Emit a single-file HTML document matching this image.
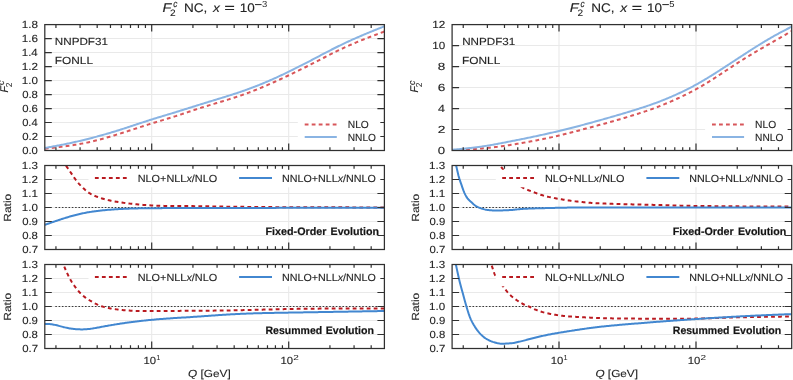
<!DOCTYPE html><html><head><meta charset="utf-8"><style>html,body{margin:0;padding:0;background:#fff;width:793px;height:380px;overflow:hidden}svg{display:block;will-change:transform}text{font-family:"Liberation Sans",sans-serif;text-rendering:geometricPrecision}</style></head><body>
<svg width="793" height="380" viewBox="0 0 793 380">
<rect width="793" height="380" fill="#fff"/>
<defs>
<clipPath id="c00"><rect x="44.8" y="24.6" width="339.6" height="125.9"/></clipPath>
<clipPath id="c01"><rect x="44.8" y="165.5" width="339.6" height="84"/></clipPath>
<clipPath id="c02"><rect x="44.8" y="264.5" width="339.6" height="84"/></clipPath>
<clipPath id="c10"><rect x="452.1" y="24.6" width="339.6" height="125.9"/></clipPath>
<clipPath id="c11"><rect x="452.1" y="165.5" width="339.6" height="84"/></clipPath>
<clipPath id="c12"><rect x="452.1" y="264.5" width="339.6" height="84"/></clipPath>
</defs>
<path d="M44.8 136.51H384.4M44.8 122.52H384.4M44.8 108.53H384.4M44.8 94.54H384.4M44.8 80.56H384.4M44.8 66.57H384.4M44.8 52.58H384.4M44.8 38.59H384.4M151.7 24.6V150.5M288.7 24.6V150.5" stroke="#e9e9e9" stroke-width="1.05" fill="none"/>
<path d="M44.8 235.5H384.4M44.8 221.5H384.4M44.8 207.5H384.4M44.8 193.5H384.4M44.8 179.5H384.4M151.7 165.5V249.5M288.7 165.5V249.5" stroke="#e9e9e9" stroke-width="1.05" fill="none"/>
<path d="M44.8 334.5H384.4M44.8 320.5H384.4M44.8 306.5H384.4M44.8 292.5H384.4M44.8 278.5H384.4M151.7 264.5V348.5M288.7 264.5V348.5" stroke="#e9e9e9" stroke-width="1.05" fill="none"/>
<path d="M452.1 129.52H791.7M452.1 108.53H791.7M452.1 87.55H791.7M452.1 66.57H791.7M452.1 45.58H791.7M559 24.6V150.5M696 24.6V150.5" stroke="#e9e9e9" stroke-width="1.05" fill="none"/>
<path d="M452.1 235.5H791.7M452.1 221.5H791.7M452.1 207.5H791.7M452.1 193.5H791.7M452.1 179.5H791.7M559 165.5V249.5M696 165.5V249.5" stroke="#e9e9e9" stroke-width="1.05" fill="none"/>
<path d="M452.1 334.5H791.7M452.1 320.5H791.7M452.1 306.5H791.7M452.1 292.5H791.7M452.1 278.5H791.7M559 264.5V348.5M696 264.5V348.5" stroke="#e9e9e9" stroke-width="1.05" fill="none"/>
<path d="M44.8 148.72 L45.8 148.61 L46.8 148.49 L47.8 148.38 L48.8 148.26 L49.8 148.14 L50.8 148.03 L51.8 147.91 L52.8 147.79 L53.8 147.67 L54.8 147.55 L55.8 147.43 L56.8 147.31 L57.8 147.19 L58.8 147.07 L59.8 146.94 L60.8 146.82 L61.8 146.69 L62.8 146.56 L63.8 146.43 L64.8 146.3 L65.8 146.17 L66.8 146.03 L67.8 145.89 L68.8 145.75 L69.8 145.61 L70.8 145.46 L71.8 145.31 L72.8 145.16 L73.8 145 L74.8 144.85 L75.8 144.68 L76.8 144.52 L77.8 144.35 L78.8 144.18 L79.8 144 L80.8 143.82 L81.8 143.63 L82.8 143.44 L83.8 143.25 L84.8 143.05 L85.8 142.84 L86.8 142.63 L87.8 142.42 L88.8 142.2 L89.8 141.98 L90.8 141.75 L91.8 141.52 L92.8 141.28 L93.8 141.04 L94.8 140.79 L95.8 140.54 L96.8 140.29 L97.8 140.03 L98.8 139.77 L99.8 139.51 L100.8 139.24 L101.8 138.97 L102.8 138.7 L103.8 138.42 L104.8 138.14 L105.8 137.86 L106.8 137.57 L107.8 137.28 L108.8 136.99 L109.8 136.7 L110.8 136.4 L111.8 136.11 L112.8 135.81 L113.8 135.5 L114.8 135.2 L115.8 134.89 L116.8 134.58 L117.8 134.27 L118.8 133.96 L119.8 133.65 L120.8 133.34 L121.8 133.02 L122.8 132.7 L123.8 132.39 L124.8 132.07 L125.8 131.75 L126.8 131.43 L127.8 131.1 L128.8 130.78 L129.8 130.46 L130.8 130.14 L131.8 129.81 L132.8 129.49 L133.8 129.16 L134.8 128.84 L135.8 128.52 L136.8 128.19 L137.8 127.87 L138.8 127.55 L139.8 127.22 L140.8 126.9 L141.8 126.58 L142.8 126.26 L143.8 125.94 L144.8 125.62 L145.8 125.3 L146.8 124.99 L147.8 124.67 L148.8 124.36 L149.8 124.04 L150.8 123.73 L151.8 123.42 L152.8 123.12 L153.8 122.81 L154.8 122.5 L155.8 122.2 L156.8 121.9 L157.8 121.59 L158.8 121.29 L159.8 120.99 L160.8 120.69 L161.8 120.39 L162.8 120.09 L163.8 119.79 L164.8 119.49 L165.8 119.18 L166.8 118.88 L167.8 118.58 L168.8 118.27 L169.8 117.96 L170.8 117.66 L171.8 117.35 L172.8 117.03 L173.8 116.72 L174.8 116.4 L175.8 116.08 L176.8 115.76 L177.8 115.44 L178.8 115.11 L179.8 114.79 L180.8 114.46 L181.8 114.13 L182.8 113.8 L183.8 113.47 L184.8 113.13 L185.8 112.8 L186.8 112.47 L187.8 112.13 L188.8 111.8 L189.8 111.47 L190.8 111.14 L191.8 110.8 L192.8 110.47 L193.8 110.14 L194.8 109.81 L195.8 109.48 L196.8 109.16 L197.8 108.83 L198.8 108.51 L199.8 108.19 L200.8 107.87 L201.8 107.56 L202.8 107.25 L203.8 106.93 L204.8 106.62 L205.8 106.32 L206.8 106.01 L207.8 105.71 L208.8 105.4 L209.8 105.1 L210.8 104.8 L211.8 104.5 L212.8 104.2 L213.8 103.9 L214.8 103.6 L215.8 103.3 L216.8 103 L217.8 102.7 L218.8 102.4 L219.8 102.1 L220.8 101.8 L221.8 101.49 L222.8 101.19 L223.8 100.89 L224.8 100.58 L225.8 100.27 L226.8 99.97 L227.8 99.66 L228.8 99.34 L229.8 99.03 L230.8 98.71 L231.8 98.4 L232.8 98.08 L233.8 97.76 L234.8 97.43 L235.8 97.1 L236.8 96.77 L237.8 96.44 L238.8 96.11 L239.8 95.77 L240.8 95.43 L241.8 95.08 L242.8 94.74 L243.8 94.39 L244.8 94.03 L245.8 93.68 L246.8 93.31 L247.8 92.95 L248.8 92.58 L249.8 92.21 L250.8 91.83 L251.8 91.45 L252.8 91.07 L253.8 90.68 L254.8 90.29 L255.8 89.89 L256.8 89.49 L257.8 89.09 L258.8 88.68 L259.8 88.27 L260.8 87.86 L261.8 87.45 L262.8 87.03 L263.8 86.6 L264.8 86.18 L265.8 85.75 L266.8 85.32 L267.8 84.89 L268.8 84.45 L269.8 84.01 L270.8 83.57 L271.8 83.12 L272.8 82.68 L273.8 82.23 L274.8 81.78 L275.8 81.32 L276.8 80.87 L277.8 80.41 L278.8 79.95 L279.8 79.49 L280.8 79.03 L281.8 78.56 L282.8 78.1 L283.8 77.63 L284.8 77.16 L285.8 76.69 L286.8 76.22 L287.8 75.74 L288.8 75.27 L289.8 74.79 L290.8 74.31 L291.8 73.84 L292.8 73.36 L293.8 72.88 L294.8 72.39 L295.8 71.91 L296.8 71.43 L297.8 70.94 L298.8 70.45 L299.8 69.97 L300.8 69.47 L301.8 68.98 L302.8 68.49 L303.8 67.99 L304.8 67.5 L305.8 67 L306.8 66.5 L307.8 65.99 L308.8 65.49 L309.8 64.98 L310.8 64.47 L311.8 63.96 L312.8 63.45 L313.8 62.93 L314.8 62.42 L315.8 61.9 L316.8 61.39 L317.8 60.87 L318.8 60.35 L319.8 59.83 L320.8 59.31 L321.8 58.79 L322.8 58.27 L323.8 57.76 L324.8 57.24 L325.8 56.73 L326.8 56.21 L327.8 55.7 L328.8 55.19 L329.8 54.68 L330.8 54.18 L331.8 53.67 L332.8 53.17 L333.8 52.68 L334.8 52.18 L335.8 51.69 L336.8 51.2 L337.8 50.71 L338.8 50.23 L339.8 49.75 L340.8 49.27 L341.8 48.8 L342.8 48.33 L343.8 47.86 L344.8 47.4 L345.8 46.94 L346.8 46.49 L347.8 46.04 L348.8 45.59 L349.8 45.15 L350.8 44.71 L351.8 44.27 L352.8 43.84 L353.8 43.42 L354.8 42.99 L355.8 42.57 L356.8 42.15 L357.8 41.74 L358.8 41.33 L359.8 40.92 L360.8 40.52 L361.8 40.11 L362.8 39.71 L363.8 39.32 L364.8 38.92 L365.8 38.53 L366.8 38.14 L367.8 37.75 L368.8 37.36 L369.8 36.98 L370.8 36.59 L371.8 36.21 L372.8 35.83 L373.8 35.45 L374.8 35.07 L375.8 34.7 L376.8 34.32 L377.8 33.94 L378.8 33.57 L379.8 33.2 L380.8 32.82 L381.8 32.45 L382.8 32.08 L383.8 31.7 L384.4 31.48" fill="none" stroke="#d8565a" stroke-width="2.0" stroke-dasharray="3.8 3.2" clip-path="url(#c00)" stroke-linejoin="round"/>
<path d="M44.8 147.99 L45.8 147.81 L46.8 147.63 L47.8 147.45 L48.8 147.27 L49.8 147.09 L50.8 146.91 L51.8 146.72 L52.8 146.54 L53.8 146.35 L54.8 146.17 L55.8 145.98 L56.8 145.79 L57.8 145.6 L58.8 145.41 L59.8 145.22 L60.8 145.02 L61.8 144.82 L62.8 144.62 L63.8 144.42 L64.8 144.22 L65.8 144.02 L66.8 143.81 L67.8 143.6 L68.8 143.39 L69.8 143.17 L70.8 142.96 L71.8 142.74 L72.8 142.52 L73.8 142.29 L74.8 142.07 L75.8 141.84 L76.8 141.61 L77.8 141.38 L78.8 141.15 L79.8 140.91 L80.8 140.67 L81.8 140.43 L82.8 140.19 L83.8 139.94 L84.8 139.7 L85.8 139.45 L86.8 139.2 L87.8 138.95 L88.8 138.7 L89.8 138.44 L90.8 138.18 L91.8 137.93 L92.8 137.66 L93.8 137.4 L94.8 137.14 L95.8 136.87 L96.8 136.6 L97.8 136.33 L98.8 136.06 L99.8 135.78 L100.8 135.5 L101.8 135.23 L102.8 134.94 L103.8 134.66 L104.8 134.38 L105.8 134.09 L106.8 133.8 L107.8 133.51 L108.8 133.21 L109.8 132.92 L110.8 132.62 L111.8 132.32 L112.8 132.02 L113.8 131.72 L114.8 131.42 L115.8 131.11 L116.8 130.8 L117.8 130.49 L118.8 130.18 L119.8 129.86 L120.8 129.55 L121.8 129.23 L122.8 128.91 L123.8 128.59 L124.8 128.27 L125.8 127.94 L126.8 127.61 L127.8 127.29 L128.8 126.96 L129.8 126.63 L130.8 126.3 L131.8 125.97 L132.8 125.64 L133.8 125.31 L134.8 124.98 L135.8 124.64 L136.8 124.31 L137.8 123.98 L138.8 123.65 L139.8 123.32 L140.8 122.99 L141.8 122.66 L142.8 122.33 L143.8 122 L144.8 121.68 L145.8 121.35 L146.8 121.03 L147.8 120.71 L148.8 120.39 L149.8 120.07 L150.8 119.75 L151.8 119.44 L152.8 119.13 L153.8 118.81 L154.8 118.5 L155.8 118.2 L156.8 117.89 L157.8 117.58 L158.8 117.28 L159.8 116.98 L160.8 116.67 L161.8 116.37 L162.8 116.07 L163.8 115.77 L164.8 115.47 L165.8 115.16 L166.8 114.86 L167.8 114.56 L168.8 114.26 L169.8 113.96 L170.8 113.66 L171.8 113.35 L172.8 113.05 L173.8 112.74 L174.8 112.44 L175.8 112.13 L176.8 111.82 L177.8 111.51 L178.8 111.2 L179.8 110.89 L180.8 110.58 L181.8 110.26 L182.8 109.95 L183.8 109.64 L184.8 109.32 L185.8 109.01 L186.8 108.69 L187.8 108.38 L188.8 108.06 L189.8 107.74 L190.8 107.43 L191.8 107.11 L192.8 106.8 L193.8 106.48 L194.8 106.17 L195.8 105.85 L196.8 105.54 L197.8 105.23 L198.8 104.91 L199.8 104.6 L200.8 104.29 L201.8 103.98 L202.8 103.67 L203.8 103.36 L204.8 103.06 L205.8 102.75 L206.8 102.44 L207.8 102.14 L208.8 101.83 L209.8 101.52 L210.8 101.22 L211.8 100.91 L212.8 100.61 L213.8 100.3 L214.8 100 L215.8 99.69 L216.8 99.38 L217.8 99.08 L218.8 98.77 L219.8 98.46 L220.8 98.16 L221.8 97.85 L222.8 97.54 L223.8 97.23 L224.8 96.92 L225.8 96.6 L226.8 96.29 L227.8 95.98 L228.8 95.66 L229.8 95.35 L230.8 95.03 L231.8 94.71 L232.8 94.39 L233.8 94.06 L234.8 93.74 L235.8 93.41 L236.8 93.08 L237.8 92.75 L238.8 92.41 L239.8 92.08 L240.8 91.74 L241.8 91.4 L242.8 91.05 L243.8 90.7 L244.8 90.35 L245.8 90 L246.8 89.64 L247.8 89.28 L248.8 88.92 L249.8 88.55 L250.8 88.18 L251.8 87.8 L252.8 87.43 L253.8 87.04 L254.8 86.66 L255.8 86.27 L256.8 85.88 L257.8 85.48 L258.8 85.08 L259.8 84.68 L260.8 84.27 L261.8 83.86 L262.8 83.45 L263.8 83.03 L264.8 82.61 L265.8 82.19 L266.8 81.76 L267.8 81.34 L268.8 80.9 L269.8 80.47 L270.8 80.03 L271.8 79.59 L272.8 79.15 L273.8 78.7 L274.8 78.25 L275.8 77.8 L276.8 77.34 L277.8 76.89 L278.8 76.43 L279.8 75.96 L280.8 75.5 L281.8 75.03 L282.8 74.56 L283.8 74.09 L284.8 73.61 L285.8 73.13 L286.8 72.65 L287.8 72.17 L288.8 71.69 L289.8 71.2 L290.8 70.71 L291.8 70.22 L292.8 69.73 L293.8 69.23 L294.8 68.73 L295.8 68.23 L296.8 67.73 L297.8 67.23 L298.8 66.72 L299.8 66.22 L300.8 65.71 L301.8 65.2 L302.8 64.68 L303.8 64.17 L304.8 63.65 L305.8 63.14 L306.8 62.62 L307.8 62.1 L308.8 61.57 L309.8 61.05 L310.8 60.52 L311.8 60 L312.8 59.47 L313.8 58.94 L314.8 58.41 L315.8 57.88 L316.8 57.35 L317.8 56.82 L318.8 56.29 L319.8 55.76 L320.8 55.23 L321.8 54.71 L322.8 54.18 L323.8 53.65 L324.8 53.13 L325.8 52.6 L326.8 52.08 L327.8 51.56 L328.8 51.05 L329.8 50.53 L330.8 50.02 L331.8 49.51 L332.8 49 L333.8 48.5 L334.8 48 L335.8 47.5 L336.8 47 L337.8 46.51 L338.8 46.02 L339.8 45.53 L340.8 45.05 L341.8 44.57 L342.8 44.09 L343.8 43.61 L344.8 43.14 L345.8 42.67 L346.8 42.2 L347.8 41.74 L348.8 41.28 L349.8 40.82 L350.8 40.36 L351.8 39.91 L352.8 39.46 L353.8 39.01 L354.8 38.57 L355.8 38.13 L356.8 37.69 L357.8 37.25 L358.8 36.82 L359.8 36.39 L360.8 35.96 L361.8 35.53 L362.8 35.1 L363.8 34.68 L364.8 34.26 L365.8 33.84 L366.8 33.42 L367.8 33 L368.8 32.59 L369.8 32.18 L370.8 31.77 L371.8 31.36 L372.8 30.95 L373.8 30.54 L374.8 30.13 L375.8 29.73 L376.8 29.32 L377.8 28.92 L378.8 28.51 L379.8 28.11 L380.8 27.71 L381.8 27.31 L382.8 26.91 L383.8 26.5 L384.4 26.26" fill="none" stroke="#8ab4e3" stroke-width="2.0" clip-path="url(#c00)" stroke-linejoin="round"/>
<path d="M452.1 150.54 L453.1 150.47 L454.1 150.4 L455.1 150.34 L456.1 150.27 L457.1 150.21 L458.1 150.14 L459.1 150.07 L460.1 150.01 L461.1 149.94 L462.1 149.87 L463.1 149.81 L464.1 149.74 L465.1 149.67 L466.1 149.6 L467.1 149.53 L468.1 149.46 L469.1 149.4 L470.1 149.33 L471.1 149.26 L472.1 149.19 L473.1 149.11 L474.1 149.04 L475.1 148.97 L476.1 148.89 L477.1 148.82 L478.1 148.74 L479.1 148.66 L480.1 148.58 L481.1 148.5 L482.1 148.42 L483.1 148.33 L484.1 148.25 L485.1 148.16 L486.1 148.06 L487.1 147.97 L488.1 147.87 L489.1 147.77 L490.1 147.67 L491.1 147.56 L492.1 147.46 L493.1 147.35 L494.1 147.23 L495.1 147.11 L496.1 147 L497.1 146.87 L498.1 146.75 L499.1 146.62 L500.1 146.49 L501.1 146.36 L502.1 146.22 L503.1 146.08 L504.1 145.94 L505.1 145.79 L506.1 145.64 L507.1 145.49 L508.1 145.33 L509.1 145.18 L510.1 145.02 L511.1 144.85 L512.1 144.69 L513.1 144.52 L514.1 144.36 L515.1 144.19 L516.1 144.02 L517.1 143.84 L518.1 143.67 L519.1 143.5 L520.1 143.32 L521.1 143.15 L522.1 142.97 L523.1 142.79 L524.1 142.62 L525.1 142.44 L526.1 142.26 L527.1 142.08 L528.1 141.9 L529.1 141.72 L530.1 141.54 L531.1 141.35 L532.1 141.17 L533.1 140.98 L534.1 140.79 L535.1 140.61 L536.1 140.42 L537.1 140.22 L538.1 140.03 L539.1 139.84 L540.1 139.64 L541.1 139.44 L542.1 139.24 L543.1 139.04 L544.1 138.84 L545.1 138.63 L546.1 138.43 L547.1 138.22 L548.1 138.01 L549.1 137.79 L550.1 137.58 L551.1 137.36 L552.1 137.14 L553.1 136.92 L554.1 136.7 L555.1 136.47 L556.1 136.24 L557.1 136.01 L558.1 135.77 L559.1 135.54 L560.1 135.3 L561.1 135.05 L562.1 134.81 L563.1 134.56 L564.1 134.31 L565.1 134.06 L566.1 133.81 L567.1 133.55 L568.1 133.3 L569.1 133.04 L570.1 132.78 L571.1 132.52 L572.1 132.26 L573.1 131.99 L574.1 131.73 L575.1 131.47 L576.1 131.2 L577.1 130.94 L578.1 130.67 L579.1 130.41 L580.1 130.14 L581.1 129.87 L582.1 129.61 L583.1 129.34 L584.1 129.08 L585.1 128.81 L586.1 128.55 L587.1 128.28 L588.1 128.02 L589.1 127.75 L590.1 127.48 L591.1 127.22 L592.1 126.95 L593.1 126.68 L594.1 126.42 L595.1 126.15 L596.1 125.88 L597.1 125.61 L598.1 125.34 L599.1 125.07 L600.1 124.8 L601.1 124.53 L602.1 124.25 L603.1 123.98 L604.1 123.71 L605.1 123.43 L606.1 123.16 L607.1 122.88 L608.1 122.6 L609.1 122.32 L610.1 122.04 L611.1 121.76 L612.1 121.48 L613.1 121.2 L614.1 120.91 L615.1 120.63 L616.1 120.34 L617.1 120.05 L618.1 119.76 L619.1 119.47 L620.1 119.18 L621.1 118.89 L622.1 118.59 L623.1 118.3 L624.1 118 L625.1 117.7 L626.1 117.41 L627.1 117.1 L628.1 116.8 L629.1 116.5 L630.1 116.19 L631.1 115.89 L632.1 115.58 L633.1 115.27 L634.1 114.96 L635.1 114.65 L636.1 114.33 L637.1 114.02 L638.1 113.7 L639.1 113.38 L640.1 113.06 L641.1 112.73 L642.1 112.41 L643.1 112.08 L644.1 111.75 L645.1 111.41 L646.1 111.08 L647.1 110.74 L648.1 110.39 L649.1 110.05 L650.1 109.69 L651.1 109.34 L652.1 108.98 L653.1 108.62 L654.1 108.25 L655.1 107.88 L656.1 107.51 L657.1 107.13 L658.1 106.75 L659.1 106.36 L660.1 105.97 L661.1 105.58 L662.1 105.18 L663.1 104.77 L664.1 104.37 L665.1 103.95 L666.1 103.54 L667.1 103.12 L668.1 102.7 L669.1 102.27 L670.1 101.84 L671.1 101.41 L672.1 100.97 L673.1 100.53 L674.1 100.09 L675.1 99.64 L676.1 99.19 L677.1 98.73 L678.1 98.27 L679.1 97.81 L680.1 97.35 L681.1 96.88 L682.1 96.4 L683.1 95.92 L684.1 95.44 L685.1 94.95 L686.1 94.46 L687.1 93.96 L688.1 93.46 L689.1 92.95 L690.1 92.44 L691.1 91.92 L692.1 91.39 L693.1 90.86 L694.1 90.32 L695.1 89.78 L696.1 89.23 L697.1 88.68 L698.1 88.12 L699.1 87.55 L700.1 86.97 L701.1 86.39 L702.1 85.81 L703.1 85.22 L704.1 84.62 L705.1 84.02 L706.1 83.41 L707.1 82.8 L708.1 82.19 L709.1 81.56 L710.1 80.94 L711.1 80.31 L712.1 79.67 L713.1 79.04 L714.1 78.39 L715.1 77.75 L716.1 77.1 L717.1 76.45 L718.1 75.8 L719.1 75.14 L720.1 74.48 L721.1 73.83 L722.1 73.17 L723.1 72.5 L724.1 71.84 L725.1 71.18 L726.1 70.52 L727.1 69.86 L728.1 69.19 L729.1 68.53 L730.1 67.87 L731.1 67.21 L732.1 66.55 L733.1 65.9 L734.1 65.24 L735.1 64.59 L736.1 63.94 L737.1 63.3 L738.1 62.65 L739.1 62.01 L740.1 61.38 L741.1 60.74 L742.1 60.11 L743.1 59.49 L744.1 58.86 L745.1 58.24 L746.1 57.63 L747.1 57.01 L748.1 56.4 L749.1 55.79 L750.1 55.18 L751.1 54.58 L752.1 53.98 L753.1 53.38 L754.1 52.78 L755.1 52.19 L756.1 51.6 L757.1 51.01 L758.1 50.42 L759.1 49.83 L760.1 49.25 L761.1 48.67 L762.1 48.09 L763.1 47.51 L764.1 46.94 L765.1 46.36 L766.1 45.79 L767.1 45.22 L768.1 44.65 L769.1 44.08 L770.1 43.51 L771.1 42.94 L772.1 42.37 L773.1 41.8 L774.1 41.23 L775.1 40.65 L776.1 40.08 L777.1 39.51 L778.1 38.93 L779.1 38.35 L780.1 37.78 L781.1 37.2 L782.1 36.62 L783.1 36.04 L784.1 35.46 L785.1 34.88 L786.1 34.3 L787.1 33.72 L788.1 33.14 L789.1 32.55 L790.1 31.97 L791.1 31.39 L791.6 31.1" fill="none" stroke="#d8565a" stroke-width="2.0" stroke-dasharray="3.8 3.2" clip-path="url(#c10)" stroke-linejoin="round"/>
<path d="M452.1 149.78 L453.1 149.69 L454.1 149.6 L455.1 149.5 L456.1 149.41 L457.1 149.32 L458.1 149.22 L459.1 149.13 L460.1 149.03 L461.1 148.93 L462.1 148.84 L463.1 148.74 L464.1 148.64 L465.1 148.54 L466.1 148.43 L467.1 148.33 L468.1 148.22 L469.1 148.11 L470.1 148 L471.1 147.89 L472.1 147.77 L473.1 147.65 L474.1 147.53 L475.1 147.41 L476.1 147.29 L477.1 147.16 L478.1 147.03 L479.1 146.89 L480.1 146.76 L481.1 146.62 L482.1 146.48 L483.1 146.33 L484.1 146.18 L485.1 146.03 L486.1 145.87 L487.1 145.71 L488.1 145.55 L489.1 145.39 L490.1 145.22 L491.1 145.04 L492.1 144.87 L493.1 144.69 L494.1 144.51 L495.1 144.33 L496.1 144.14 L497.1 143.96 L498.1 143.77 L499.1 143.58 L500.1 143.39 L501.1 143.2 L502.1 143 L503.1 142.81 L504.1 142.61 L505.1 142.42 L506.1 142.22 L507.1 142.03 L508.1 141.83 L509.1 141.64 L510.1 141.44 L511.1 141.25 L512.1 141.05 L513.1 140.85 L514.1 140.66 L515.1 140.46 L516.1 140.26 L517.1 140.06 L518.1 139.86 L519.1 139.66 L520.1 139.46 L521.1 139.26 L522.1 139.06 L523.1 138.86 L524.1 138.65 L525.1 138.45 L526.1 138.25 L527.1 138.04 L528.1 137.83 L529.1 137.63 L530.1 137.42 L531.1 137.21 L532.1 137 L533.1 136.79 L534.1 136.58 L535.1 136.37 L536.1 136.16 L537.1 135.94 L538.1 135.73 L539.1 135.51 L540.1 135.3 L541.1 135.08 L542.1 134.86 L543.1 134.64 L544.1 134.42 L545.1 134.2 L546.1 133.98 L547.1 133.75 L548.1 133.53 L549.1 133.3 L550.1 133.07 L551.1 132.85 L552.1 132.62 L553.1 132.39 L554.1 132.15 L555.1 131.92 L556.1 131.68 L557.1 131.45 L558.1 131.21 L559.1 130.97 L560.1 130.73 L561.1 130.49 L562.1 130.25 L563.1 130 L564.1 129.76 L565.1 129.51 L566.1 129.26 L567.1 129.01 L568.1 128.76 L569.1 128.51 L570.1 128.26 L571.1 128 L572.1 127.75 L573.1 127.49 L574.1 127.23 L575.1 126.98 L576.1 126.72 L577.1 126.45 L578.1 126.19 L579.1 125.93 L580.1 125.66 L581.1 125.4 L582.1 125.13 L583.1 124.87 L584.1 124.6 L585.1 124.33 L586.1 124.06 L587.1 123.79 L588.1 123.51 L589.1 123.24 L590.1 122.97 L591.1 122.69 L592.1 122.42 L593.1 122.14 L594.1 121.86 L595.1 121.59 L596.1 121.31 L597.1 121.03 L598.1 120.75 L599.1 120.47 L600.1 120.19 L601.1 119.9 L602.1 119.62 L603.1 119.34 L604.1 119.05 L605.1 118.77 L606.1 118.49 L607.1 118.2 L608.1 117.91 L609.1 117.63 L610.1 117.34 L611.1 117.05 L612.1 116.77 L613.1 116.48 L614.1 116.19 L615.1 115.9 L616.1 115.61 L617.1 115.32 L618.1 115.03 L619.1 114.73 L620.1 114.44 L621.1 114.14 L622.1 113.85 L623.1 113.55 L624.1 113.25 L625.1 112.95 L626.1 112.65 L627.1 112.35 L628.1 112.05 L629.1 111.75 L630.1 111.44 L631.1 111.14 L632.1 110.83 L633.1 110.52 L634.1 110.21 L635.1 109.9 L636.1 109.59 L637.1 109.27 L638.1 108.96 L639.1 108.64 L640.1 108.32 L641.1 107.99 L642.1 107.67 L643.1 107.34 L644.1 107.01 L645.1 106.68 L646.1 106.35 L647.1 106.01 L648.1 105.67 L649.1 105.33 L650.1 104.98 L651.1 104.63 L652.1 104.28 L653.1 103.92 L654.1 103.56 L655.1 103.19 L656.1 102.83 L657.1 102.45 L658.1 102.08 L659.1 101.7 L660.1 101.31 L661.1 100.92 L662.1 100.53 L663.1 100.14 L664.1 99.74 L665.1 99.33 L666.1 98.92 L667.1 98.51 L668.1 98.1 L669.1 97.67 L670.1 97.25 L671.1 96.82 L672.1 96.39 L673.1 95.95 L674.1 95.51 L675.1 95.07 L676.1 94.62 L677.1 94.16 L678.1 93.71 L679.1 93.24 L680.1 92.78 L681.1 92.31 L682.1 91.83 L683.1 91.35 L684.1 90.87 L685.1 90.37 L686.1 89.88 L687.1 89.38 L688.1 88.87 L689.1 88.36 L690.1 87.85 L691.1 87.33 L692.1 86.8 L693.1 86.27 L694.1 85.73 L695.1 85.18 L696.1 84.63 L697.1 84.08 L698.1 83.52 L699.1 82.95 L700.1 82.38 L701.1 81.8 L702.1 81.22 L703.1 80.63 L704.1 80.04 L705.1 79.44 L706.1 78.84 L707.1 78.24 L708.1 77.63 L709.1 77.02 L710.1 76.4 L711.1 75.78 L712.1 75.16 L713.1 74.54 L714.1 73.91 L715.1 73.28 L716.1 72.65 L717.1 72.01 L718.1 71.38 L719.1 70.74 L720.1 70.09 L721.1 69.45 L722.1 68.81 L723.1 68.16 L724.1 67.51 L725.1 66.86 L726.1 66.21 L727.1 65.56 L728.1 64.91 L729.1 64.25 L730.1 63.6 L731.1 62.95 L732.1 62.29 L733.1 61.63 L734.1 60.98 L735.1 60.32 L736.1 59.67 L737.1 59.01 L738.1 58.36 L739.1 57.7 L740.1 57.05 L741.1 56.39 L742.1 55.74 L743.1 55.09 L744.1 54.44 L745.1 53.79 L746.1 53.14 L747.1 52.49 L748.1 51.84 L749.1 51.2 L750.1 50.56 L751.1 49.92 L752.1 49.28 L753.1 48.64 L754.1 48.01 L755.1 47.38 L756.1 46.75 L757.1 46.12 L758.1 45.5 L759.1 44.88 L760.1 44.26 L761.1 43.64 L762.1 43.03 L763.1 42.42 L764.1 41.82 L765.1 41.22 L766.1 40.62 L767.1 40.03 L768.1 39.44 L769.1 38.85 L770.1 38.27 L771.1 37.69 L772.1 37.12 L773.1 36.55 L774.1 35.98 L775.1 35.42 L776.1 34.86 L777.1 34.31 L778.1 33.76 L779.1 33.22 L780.1 32.68 L781.1 32.14 L782.1 31.61 L783.1 31.08 L784.1 30.56 L785.1 30.04 L786.1 29.52 L787.1 29.01 L788.1 28.5 L789.1 27.99 L790.1 27.48 L791.1 26.97 L791.6 26.72" fill="none" stroke="#8ab4e3" stroke-width="2.0" clip-path="url(#c10)" stroke-linejoin="round"/>
<line x1="55.3" y1="207.5" x2="384.4" y2="207.5" stroke="#3a3a3a" stroke-width="1.2" stroke-dasharray="1.6 1.7"/>
<line x1="55.3" y1="306.5" x2="384.4" y2="306.5" stroke="#3a3a3a" stroke-width="1.2" stroke-dasharray="1.6 1.7"/>
<line x1="462.6" y1="207.5" x2="791.7" y2="207.5" stroke="#3a3a3a" stroke-width="1.2" stroke-dasharray="1.6 1.7"/>
<line x1="462.6" y1="306.5" x2="791.7" y2="306.5" stroke="#3a3a3a" stroke-width="1.2" stroke-dasharray="1.6 1.7"/>
<path d="M62 159.97 L63 161.39 L64 162.81 L65 164.23 L66 165.66 L67 167.1 L68 168.54 L69 169.99 L70 171.45 L71 172.91 L72 174.39 L73 175.87 L74 177.34 L75 178.76 L76 180.13 L77 181.42 L78 182.65 L79 183.82 L80 184.93 L81 185.98 L82 186.98 L83 187.93 L84 188.84 L85 189.72 L86 190.56 L87 191.36 L88 192.12 L89 192.83 L90 193.47 L91 194.06 L92 194.6 L93 195.09 L94 195.55 L95 195.97 L96 196.37 L97 196.76 L98 197.13 L99 197.48 L100 197.83 L101 198.15 L102 198.47 L103 198.77 L104 199.06 L105 199.34 L106 199.61 L107 199.87 L108 200.11 L109 200.34 L110 200.56 L111 200.77 L112 200.96 L113 201.14 L114 201.32 L115 201.49 L116 201.65 L117 201.82 L118 201.98 L119 202.13 L120 202.29 L121 202.44 L122 202.59 L123 202.74 L124 202.88 L125 203.01 L126 203.14 L127 203.27 L128 203.39 L129 203.5 L130 203.62 L131 203.73 L132 203.84 L133 203.94 L134 204.04 L135 204.15 L136 204.24 L137 204.34 L138 204.44 L139 204.53 L140 204.62 L141 204.71 L142 204.79 L143 204.88 L144 204.95 L145 205.03 L146 205.1 L147 205.17 L148 205.23 L149 205.3 L150 205.35 L151 205.41 L152 205.46 L153 205.51 L154 205.56 L155 205.6 L156 205.64 L157 205.68 L158 205.71 L159 205.75 L160 205.78 L161 205.8 L162 205.83 L163 205.86 L164 205.88 L165 205.9 L166 205.92 L167 205.93 L168 205.95 L169 205.96 L170 205.98 L171 205.99 L172 206 L173 206.01 L174 206.02 L175 206.02 L176 206.03 L177 206.04 L178 206.04 L179 206.05 L180 206.05 L181 206.06 L182 206.06 L183 206.06 L184 206.07 L185 206.07 L186 206.08 L187 206.08 L188 206.09 L189 206.09 L190 206.1 L191 206.1 L192 206.11 L193 206.12 L194 206.13 L195 206.14 L196 206.15 L197 206.16 L198 206.17 L199 206.18 L200 206.2 L201 206.21 L202 206.22 L203 206.24 L204 206.25 L205 206.27 L206 206.28 L207 206.3 L208 206.31 L209 206.33 L210 206.34 L211 206.36 L212 206.38 L213 206.39 L214 206.41 L215 206.43 L216 206.45 L217 206.46 L218 206.48 L219 206.5 L220 206.52 L221 206.53 L222 206.55 L223 206.57 L224 206.59 L225 206.6 L226 206.62 L227 206.64 L228 206.65 L229 206.67 L230 206.68 L231 206.7 L232 206.71 L233 206.73 L234 206.74 L235 206.76 L236 206.77 L237 206.79 L238 206.8 L239 206.81 L240 206.82 L241 206.84 L242 206.85 L243 206.86 L244 206.87 L245 206.88 L246 206.89 L247 206.91 L248 206.92 L249 206.93 L250 206.94 L251 206.95 L252 206.96 L253 206.97 L254 206.98 L255 206.98 L256 206.99 L257 207 L258 207.01 L259 207.02 L260 207.03 L261 207.03 L262 207.04 L263 207.05 L264 207.06 L265 207.07 L266 207.07 L267 207.08 L268 207.09 L269 207.09 L270 207.1 L271 207.11 L272 207.11 L273 207.12 L274 207.13 L275 207.13 L276 207.14 L277 207.14 L278 207.15 L279 207.16 L280 207.16 L281 207.17 L282 207.17 L283 207.18 L284 207.18 L285 207.19 L286 207.19 L287 207.2 L288 207.2 L289 207.21 L290 207.21 L291 207.22 L292 207.22 L293 207.23 L294 207.23 L295 207.24 L296 207.24 L297 207.25 L298 207.25 L299 207.25 L300 207.26 L301 207.26 L302 207.26 L303 207.27 L304 207.27 L305 207.28 L306 207.28 L307 207.28 L308 207.29 L309 207.29 L310 207.29 L311 207.3 L312 207.3 L313 207.3 L314 207.3 L315 207.31 L316 207.31 L317 207.31 L318 207.32 L319 207.32 L320 207.32 L321 207.32 L322 207.33 L323 207.33 L324 207.33 L325 207.33 L326 207.33 L327 207.34 L328 207.34 L329 207.34 L330 207.34 L331 207.35 L332 207.35 L333 207.35 L334 207.35 L335 207.35 L336 207.35 L337 207.36 L338 207.36 L339 207.36 L340 207.36 L341 207.36 L342 207.36 L343 207.36 L344 207.37 L345 207.37 L346 207.37 L347 207.37 L348 207.37 L349 207.37 L350 207.37 L351 207.37 L352 207.38 L353 207.38 L354 207.38 L355 207.38 L356 207.38 L357 207.38 L358 207.38 L359 207.38 L360 207.38 L361 207.38 L362 207.39 L363 207.39 L364 207.39 L365 207.39 L366 207.39 L367 207.39 L368 207.39 L369 207.39 L370 207.39 L371 207.39 L372 207.39 L373 207.39 L374 207.39 L375 207.39 L376 207.4 L377 207.4 L378 207.4 L379 207.4 L380 207.4 L381 207.4 L382 207.4 L383 207.4 L384 207.4 L384.4 207.4" fill="none" stroke="#b91a20" stroke-width="2.0" stroke-dasharray="3.8 3.2" clip-path="url(#c01)" stroke-linejoin="round"/>
<path d="M44.8 224.9 L45.8 224.53 L46.8 224.16 L47.8 223.8 L48.8 223.44 L49.8 223.08 L50.8 222.73 L51.8 222.38 L52.8 222.03 L53.8 221.69 L54.8 221.35 L55.8 221.01 L56.8 220.68 L57.8 220.35 L58.8 220.02 L59.8 219.7 L60.8 219.38 L61.8 219.06 L62.8 218.74 L63.8 218.42 L64.8 218.1 L65.8 217.79 L66.8 217.48 L67.8 217.17 L68.8 216.87 L69.8 216.57 L70.8 216.28 L71.8 216 L72.8 215.72 L73.8 215.46 L74.8 215.2 L75.8 214.95 L76.8 214.71 L77.8 214.47 L78.8 214.23 L79.8 214 L80.8 213.77 L81.8 213.55 L82.8 213.33 L83.8 213.12 L84.8 212.92 L85.8 212.72 L86.8 212.53 L87.8 212.36 L88.8 212.19 L89.8 212.03 L90.8 211.88 L91.8 211.73 L92.8 211.59 L93.8 211.45 L94.8 211.31 L95.8 211.18 L96.8 211.05 L97.8 210.92 L98.8 210.8 L99.8 210.68 L100.8 210.57 L101.8 210.46 L102.8 210.35 L103.8 210.25 L104.8 210.15 L105.8 210.05 L106.8 209.96 L107.8 209.87 L108.8 209.79 L109.8 209.71 L110.8 209.64 L111.8 209.57 L112.8 209.5 L113.8 209.43 L114.8 209.36 L115.8 209.29 L116.8 209.23 L117.8 209.17 L118.8 209.11 L119.8 209.05 L120.8 208.99 L121.8 208.94 L122.8 208.89 L123.8 208.84 L124.8 208.79 L125.8 208.75 L126.8 208.71 L127.8 208.67 L128.8 208.64 L129.8 208.61 L130.8 208.58 L131.8 208.55 L132.8 208.52 L133.8 208.49 L134.8 208.47 L135.8 208.44 L136.8 208.42 L137.8 208.39 L138.8 208.37 L139.8 208.35 L140.8 208.33 L141.8 208.31 L142.8 208.29 L143.8 208.27 L144.8 208.26 L145.8 208.24 L146.8 208.23 L147.8 208.22 L148.8 208.21 L149.8 208.2 L150.8 208.19 L151.8 208.19 L152.8 208.18 L153.8 208.17 L154.8 208.17 L155.8 208.16 L156.8 208.15 L157.8 208.15 L158.8 208.14 L159.8 208.14 L160.8 208.13 L161.8 208.13 L162.8 208.12 L163.8 208.11 L164.8 208.11 L165.8 208.1 L166.8 208.1 L167.8 208.1 L168.8 208.09 L169.8 208.09 L170.8 208.08 L171.8 208.08 L172.8 208.07 L173.8 208.07 L174.8 208.07 L175.8 208.06 L176.8 208.06 L177.8 208.06 L178.8 208.05 L179.8 208.05 L180.8 208.05 L181.8 208.04 L182.8 208.04 L183.8 208.04 L184.8 208.03 L185.8 208.03 L186.8 208.03 L187.8 208.03 L188.8 208.02 L189.8 208.02 L190.8 208.02 L191.8 208.02 L192.8 208.01 L193.8 208.01 L194.8 208.01 L195.8 208.01 L196.8 208.01 L197.8 208 L198.8 208 L199.8 208 L200.8 208 L201.8 208 L202.8 207.99 L203.8 207.99 L204.8 207.99 L205.8 207.99 L206.8 207.99 L207.8 207.99 L208.8 207.98 L209.8 207.98 L210.8 207.98 L211.8 207.98 L212.8 207.98 L213.8 207.97 L214.8 207.97 L215.8 207.97 L216.8 207.97 L217.8 207.97 L218.8 207.97 L219.8 207.96 L220.8 207.96 L221.8 207.96 L222.8 207.96 L223.8 207.96 L224.8 207.95 L225.8 207.95 L226.8 207.95 L227.8 207.95 L228.8 207.95 L229.8 207.95 L230.8 207.94 L231.8 207.94 L232.8 207.94 L233.8 207.94 L234.8 207.94 L235.8 207.94 L236.8 207.93 L237.8 207.93 L238.8 207.93 L239.8 207.93 L240.8 207.93 L241.8 207.93 L242.8 207.92 L243.8 207.92 L244.8 207.92 L245.8 207.92 L246.8 207.92 L247.8 207.92 L248.8 207.91 L249.8 207.91 L250.8 207.91 L251.8 207.91 L252.8 207.91 L253.8 207.91 L254.8 207.91 L255.8 207.9 L256.8 207.9 L257.8 207.9 L258.8 207.9 L259.8 207.9 L260.8 207.9 L261.8 207.9 L262.8 207.89 L263.8 207.89 L264.8 207.89 L265.8 207.89 L266.8 207.89 L267.8 207.89 L268.8 207.89 L269.8 207.88 L270.8 207.88 L271.8 207.88 L272.8 207.88 L273.8 207.88 L274.8 207.88 L275.8 207.88 L276.8 207.87 L277.8 207.87 L278.8 207.87 L279.8 207.87 L280.8 207.87 L281.8 207.87 L282.8 207.87 L283.8 207.87 L284.8 207.86 L285.8 207.86 L286.8 207.86 L287.8 207.86 L288.8 207.86 L289.8 207.86 L290.8 207.86 L291.8 207.86 L292.8 207.86 L293.8 207.85 L294.8 207.85 L295.8 207.85 L296.8 207.85 L297.8 207.85 L298.8 207.85 L299.8 207.85 L300.8 207.85 L301.8 207.85 L302.8 207.84 L303.8 207.84 L304.8 207.84 L305.8 207.84 L306.8 207.84 L307.8 207.84 L308.8 207.84 L309.8 207.84 L310.8 207.84 L311.8 207.84 L312.8 207.83 L313.8 207.83 L314.8 207.83 L315.8 207.83 L316.8 207.83 L317.8 207.83 L318.8 207.83 L319.8 207.83 L320.8 207.83 L321.8 207.83 L322.8 207.83 L323.8 207.82 L324.8 207.82 L325.8 207.82 L326.8 207.82 L327.8 207.82 L328.8 207.82 L329.8 207.82 L330.8 207.82 L331.8 207.82 L332.8 207.82 L333.8 207.82 L334.8 207.82 L335.8 207.82 L336.8 207.82 L337.8 207.81 L338.8 207.81 L339.8 207.81 L340.8 207.81 L341.8 207.81 L342.8 207.81 L343.8 207.81 L344.8 207.81 L345.8 207.81 L346.8 207.81 L347.8 207.81 L348.8 207.81 L349.8 207.81 L350.8 207.81 L351.8 207.81 L352.8 207.81 L353.8 207.81 L354.8 207.81 L355.8 207.81 L356.8 207.81 L357.8 207.8 L358.8 207.8 L359.8 207.8 L360.8 207.8 L361.8 207.8 L362.8 207.8 L363.8 207.8 L364.8 207.8 L365.8 207.8 L366.8 207.8 L367.8 207.8 L368.8 207.8 L369.8 207.8 L370.8 207.8 L371.8 207.8 L372.8 207.8 L373.8 207.8 L374.8 207.8 L375.8 207.8 L376.8 207.8 L377.8 207.8 L378.8 207.8 L379.8 207.8 L380.8 207.8 L381.8 207.8 L382.8 207.8 L383.8 207.8 L384.4 207.8" fill="none" stroke="#4287d0" stroke-width="2.0" clip-path="url(#c01)" stroke-linejoin="round"/>
<path d="M497.5 161 L498.5 162.77 L499.5 164.47 L500.5 166.02 L501.5 167.39 L502.5 168.71 L503.5 169.97 L504.5 171.19 L505.5 172.36 L506.5 173.48 L507.5 174.56 L508.5 175.61 L509.5 176.61 L510.5 177.59 L511.5 178.54 L512.5 179.46 L513.5 180.37 L514.5 181.27 L515.5 182.15 L516.5 183.01 L517.5 183.84 L518.5 184.64 L519.5 185.41 L520.5 186.13 L521.5 186.82 L522.5 187.45 L523.5 188.03 L524.5 188.56 L525.5 189.03 L526.5 189.47 L527.5 189.88 L528.5 190.27 L529.5 190.65 L530.5 191.01 L531.5 191.38 L532.5 191.75 L533.5 192.13 L534.5 192.51 L535.5 192.88 L536.5 193.26 L537.5 193.63 L538.5 193.99 L539.5 194.34 L540.5 194.69 L541.5 195.02 L542.5 195.33 L543.5 195.63 L544.5 195.91 L545.5 196.18 L546.5 196.43 L547.5 196.66 L548.5 196.89 L549.5 197.12 L550.5 197.33 L551.5 197.54 L552.5 197.74 L553.5 197.93 L554.5 198.12 L555.5 198.31 L556.5 198.49 L557.5 198.67 L558.5 198.84 L559.5 199.02 L560.5 199.19 L561.5 199.36 L562.5 199.53 L563.5 199.69 L564.5 199.85 L565.5 200.01 L566.5 200.16 L567.5 200.31 L568.5 200.46 L569.5 200.6 L570.5 200.74 L571.5 200.87 L572.5 201 L573.5 201.12 L574.5 201.25 L575.5 201.37 L576.5 201.48 L577.5 201.6 L578.5 201.71 L579.5 201.82 L580.5 201.92 L581.5 202.02 L582.5 202.12 L583.5 202.21 L584.5 202.3 L585.5 202.39 L586.5 202.48 L587.5 202.56 L588.5 202.64 L589.5 202.72 L590.5 202.8 L591.5 202.88 L592.5 202.95 L593.5 203.02 L594.5 203.09 L595.5 203.16 L596.5 203.22 L597.5 203.28 L598.5 203.33 L599.5 203.38 L600.5 203.42 L601.5 203.46 L602.5 203.5 L603.5 203.54 L604.5 203.58 L605.5 203.62 L606.5 203.66 L607.5 203.69 L608.5 203.73 L609.5 203.76 L610.5 203.8 L611.5 203.83 L612.5 203.86 L613.5 203.89 L614.5 203.92 L615.5 203.95 L616.5 203.98 L617.5 204.01 L618.5 204.04 L619.5 204.07 L620.5 204.09 L621.5 204.12 L622.5 204.15 L623.5 204.17 L624.5 204.2 L625.5 204.22 L626.5 204.25 L627.5 204.27 L628.5 204.29 L629.5 204.32 L630.5 204.34 L631.5 204.36 L632.5 204.39 L633.5 204.41 L634.5 204.43 L635.5 204.46 L636.5 204.48 L637.5 204.5 L638.5 204.52 L639.5 204.55 L640.5 204.57 L641.5 204.59 L642.5 204.62 L643.5 204.64 L644.5 204.66 L645.5 204.69 L646.5 204.71 L647.5 204.74 L648.5 204.76 L649.5 204.79 L650.5 204.81 L651.5 204.84 L652.5 204.87 L653.5 204.89 L654.5 204.92 L655.5 204.95 L656.5 204.97 L657.5 205 L658.5 205.03 L659.5 205.06 L660.5 205.09 L661.5 205.12 L662.5 205.14 L663.5 205.17 L664.5 205.2 L665.5 205.23 L666.5 205.26 L667.5 205.29 L668.5 205.31 L669.5 205.34 L670.5 205.37 L671.5 205.4 L672.5 205.43 L673.5 205.45 L674.5 205.48 L675.5 205.51 L676.5 205.53 L677.5 205.56 L678.5 205.59 L679.5 205.61 L680.5 205.64 L681.5 205.66 L682.5 205.68 L683.5 205.71 L684.5 205.73 L685.5 205.75 L686.5 205.78 L687.5 205.8 L688.5 205.82 L689.5 205.84 L690.5 205.86 L691.5 205.87 L692.5 205.89 L693.5 205.91 L694.5 205.93 L695.5 205.94 L696.5 205.96 L697.5 205.97 L698.5 205.98 L699.5 205.99 L700.5 206.01 L701.5 206.02 L702.5 206.03 L703.5 206.04 L704.5 206.05 L705.5 206.06 L706.5 206.07 L707.5 206.08 L708.5 206.09 L709.5 206.1 L710.5 206.11 L711.5 206.12 L712.5 206.13 L713.5 206.14 L714.5 206.15 L715.5 206.16 L716.5 206.17 L717.5 206.18 L718.5 206.19 L719.5 206.2 L720.5 206.21 L721.5 206.22 L722.5 206.23 L723.5 206.24 L724.5 206.25 L725.5 206.26 L726.5 206.27 L727.5 206.28 L728.5 206.29 L729.5 206.29 L730.5 206.3 L731.5 206.31 L732.5 206.32 L733.5 206.33 L734.5 206.34 L735.5 206.35 L736.5 206.35 L737.5 206.36 L738.5 206.37 L739.5 206.38 L740.5 206.39 L741.5 206.39 L742.5 206.4 L743.5 206.41 L744.5 206.42 L745.5 206.42 L746.5 206.43 L747.5 206.44 L748.5 206.44 L749.5 206.45 L750.5 206.46 L751.5 206.46 L752.5 206.47 L753.5 206.48 L754.5 206.48 L755.5 206.49 L756.5 206.49 L757.5 206.5 L758.5 206.5 L759.5 206.51 L760.5 206.52 L761.5 206.52 L762.5 206.53 L763.5 206.53 L764.5 206.54 L765.5 206.54 L766.5 206.54 L767.5 206.55 L768.5 206.55 L769.5 206.56 L770.5 206.56 L771.5 206.56 L772.5 206.57 L773.5 206.57 L774.5 206.57 L775.5 206.58 L776.5 206.58 L777.5 206.58 L778.5 206.58 L779.5 206.59 L780.5 206.59 L781.5 206.59 L782.5 206.59 L783.5 206.59 L784.5 206.6 L785.5 206.6 L786.5 206.6 L787.5 206.6 L788.5 206.6 L789.5 206.6 L790.5 206.6 L791.5 206.6 L791.6 206.6" fill="none" stroke="#b91a20" stroke-width="2.0" stroke-dasharray="3.8 3.2" clip-path="url(#c11)" stroke-linejoin="round"/>
<path d="M454.5 160 L455.5 163.32 L456.5 167.1 L457.5 171.53 L458.5 175.77 L459.5 179.14 L460.5 182.1 L461.5 184.92 L462.5 187.82 L463.5 190.66 L464.5 193.1 L465.5 195.13 L466.5 196.89 L467.5 198.33 L468.5 199.5 L469.5 200.51 L470.5 201.43 L471.5 202.32 L472.5 203.24 L473.5 204.17 L474.5 205.03 L475.5 205.79 L476.5 206.38 L477.5 206.9 L478.5 207.37 L479.5 207.79 L480.5 208.17 L481.5 208.51 L482.5 208.82 L483.5 209.12 L484.5 209.4 L485.5 209.65 L486.5 209.85 L487.5 209.99 L488.5 210.08 L489.5 210.17 L490.5 210.25 L491.5 210.33 L492.5 210.39 L493.5 210.44 L494.5 210.47 L495.5 210.49 L496.5 210.5 L497.5 210.5 L498.5 210.48 L499.5 210.47 L500.5 210.45 L501.5 210.42 L502.5 210.39 L503.5 210.36 L504.5 210.33 L505.5 210.29 L506.5 210.25 L507.5 210.22 L508.5 210.17 L509.5 210.12 L510.5 210.05 L511.5 209.98 L512.5 209.89 L513.5 209.79 L514.5 209.69 L515.5 209.59 L516.5 209.49 L517.5 209.38 L518.5 209.27 L519.5 209.17 L520.5 209.08 L521.5 208.99 L522.5 208.91 L523.5 208.83 L524.5 208.77 L525.5 208.73 L526.5 208.68 L527.5 208.64 L528.5 208.6 L529.5 208.56 L530.5 208.53 L531.5 208.49 L532.5 208.46 L533.5 208.43 L534.5 208.39 L535.5 208.36 L536.5 208.33 L537.5 208.31 L538.5 208.28 L539.5 208.25 L540.5 208.23 L541.5 208.2 L542.5 208.18 L543.5 208.15 L544.5 208.13 L545.5 208.11 L546.5 208.08 L547.5 208.06 L548.5 208.04 L549.5 208.01 L550.5 207.99 L551.5 207.96 L552.5 207.94 L553.5 207.91 L554.5 207.89 L555.5 207.86 L556.5 207.83 L557.5 207.81 L558.5 207.78 L559.5 207.76 L560.5 207.73 L561.5 207.71 L562.5 207.69 L563.5 207.67 L564.5 207.65 L565.5 207.64 L566.5 207.63 L567.5 207.62 L568.5 207.61 L569.5 207.6 L570.5 207.6 L571.5 207.6 L572.5 207.59 L573.5 207.59 L574.5 207.59 L575.5 207.59 L576.5 207.59 L577.5 207.58 L578.5 207.58 L579.5 207.58 L580.5 207.58 L581.5 207.57 L582.5 207.57 L583.5 207.57 L584.5 207.57 L585.5 207.57 L586.5 207.56 L587.5 207.56 L588.5 207.56 L589.5 207.56 L590.5 207.56 L591.5 207.55 L592.5 207.55 L593.5 207.55 L594.5 207.55 L595.5 207.55 L596.5 207.54 L597.5 207.54 L598.5 207.54 L599.5 207.54 L600.5 207.54 L601.5 207.54 L602.5 207.53 L603.5 207.53 L604.5 207.53 L605.5 207.53 L606.5 207.53 L607.5 207.52 L608.5 207.52 L609.5 207.52 L610.5 207.52 L611.5 207.52 L612.5 207.52 L613.5 207.51 L614.5 207.51 L615.5 207.51 L616.5 207.51 L617.5 207.51 L618.5 207.51 L619.5 207.51 L620.5 207.5 L621.5 207.5 L622.5 207.5 L623.5 207.5 L624.5 207.5 L625.5 207.5 L626.5 207.5 L627.5 207.49 L628.5 207.49 L629.5 207.49 L630.5 207.49 L631.5 207.49 L632.5 207.49 L633.5 207.49 L634.5 207.48 L635.5 207.48 L636.5 207.48 L637.5 207.48 L638.5 207.48 L639.5 207.48 L640.5 207.48 L641.5 207.48 L642.5 207.47 L643.5 207.47 L644.5 207.47 L645.5 207.47 L646.5 207.47 L647.5 207.47 L648.5 207.47 L649.5 207.47 L650.5 207.46 L651.5 207.46 L652.5 207.46 L653.5 207.46 L654.5 207.46 L655.5 207.46 L656.5 207.46 L657.5 207.46 L658.5 207.46 L659.5 207.45 L660.5 207.45 L661.5 207.45 L662.5 207.45 L663.5 207.45 L664.5 207.45 L665.5 207.45 L666.5 207.45 L667.5 207.45 L668.5 207.45 L669.5 207.45 L670.5 207.44 L671.5 207.44 L672.5 207.44 L673.5 207.44 L674.5 207.44 L675.5 207.44 L676.5 207.44 L677.5 207.44 L678.5 207.44 L679.5 207.44 L680.5 207.44 L681.5 207.44 L682.5 207.43 L683.5 207.43 L684.5 207.43 L685.5 207.43 L686.5 207.43 L687.5 207.43 L688.5 207.43 L689.5 207.43 L690.5 207.43 L691.5 207.43 L692.5 207.43 L693.5 207.43 L694.5 207.43 L695.5 207.43 L696.5 207.42 L697.5 207.42 L698.5 207.42 L699.5 207.42 L700.5 207.42 L701.5 207.42 L702.5 207.42 L703.5 207.42 L704.5 207.42 L705.5 207.42 L706.5 207.42 L707.5 207.42 L708.5 207.42 L709.5 207.42 L710.5 207.42 L711.5 207.42 L712.5 207.42 L713.5 207.42 L714.5 207.42 L715.5 207.41 L716.5 207.41 L717.5 207.41 L718.5 207.41 L719.5 207.41 L720.5 207.41 L721.5 207.41 L722.5 207.41 L723.5 207.41 L724.5 207.41 L725.5 207.41 L726.5 207.41 L727.5 207.41 L728.5 207.41 L729.5 207.41 L730.5 207.41 L731.5 207.41 L732.5 207.41 L733.5 207.41 L734.5 207.41 L735.5 207.41 L736.5 207.41 L737.5 207.41 L738.5 207.41 L739.5 207.41 L740.5 207.41 L741.5 207.41 L742.5 207.41 L743.5 207.41 L744.5 207.41 L745.5 207.4 L746.5 207.4 L747.5 207.4 L748.5 207.4 L749.5 207.4 L750.5 207.4 L751.5 207.4 L752.5 207.4 L753.5 207.4 L754.5 207.4 L755.5 207.4 L756.5 207.4 L757.5 207.4 L758.5 207.4 L759.5 207.4 L760.5 207.4 L761.5 207.4 L762.5 207.4 L763.5 207.4 L764.5 207.4 L765.5 207.4 L766.5 207.4 L767.5 207.4 L768.5 207.4 L769.5 207.4 L770.5 207.4 L771.5 207.4 L772.5 207.4 L773.5 207.4 L774.5 207.4 L775.5 207.4 L776.5 207.4 L777.5 207.4 L778.5 207.4 L779.5 207.4 L780.5 207.4 L781.5 207.4 L782.5 207.4 L783.5 207.4 L784.5 207.4 L785.5 207.4 L786.5 207.4 L787.5 207.4 L788.5 207.4 L789.5 207.4 L790.5 207.4 L791.5 207.4 L791.6 207.4" fill="none" stroke="#4287d0" stroke-width="2.0" clip-path="url(#c11)" stroke-linejoin="round"/>
<path d="M61.5 260.09 L62.5 262.46 L63.5 264.82 L64.5 267.17 L65.5 269.49 L66.5 271.76 L67.5 273.95 L68.5 276.04 L69.5 278.01 L70.5 279.83 L71.5 281.52 L72.5 283.1 L73.5 284.59 L74.5 286.01 L75.5 287.37 L76.5 288.67 L77.5 289.92 L78.5 291.1 L79.5 292.23 L80.5 293.29 L81.5 294.28 L82.5 295.22 L83.5 296.09 L84.5 296.9 L85.5 297.65 L86.5 298.35 L87.5 299.02 L88.5 299.65 L89.5 300.25 L90.5 300.84 L91.5 301.43 L92.5 302.01 L93.5 302.58 L94.5 303.13 L95.5 303.67 L96.5 304.17 L97.5 304.65 L98.5 305.09 L99.5 305.5 L100.5 305.88 L101.5 306.22 L102.5 306.55 L103.5 306.84 L104.5 307.12 L105.5 307.38 L106.5 307.61 L107.5 307.84 L108.5 308.04 L109.5 308.24 L110.5 308.43 L111.5 308.61 L112.5 308.78 L113.5 308.94 L114.5 309.09 L115.5 309.24 L116.5 309.38 L117.5 309.51 L118.5 309.63 L119.5 309.75 L120.5 309.86 L121.5 309.97 L122.5 310.06 L123.5 310.16 L124.5 310.24 L125.5 310.33 L126.5 310.4 L127.5 310.47 L128.5 310.54 L129.5 310.6 L130.5 310.66 L131.5 310.71 L132.5 310.76 L133.5 310.8 L134.5 310.84 L135.5 310.88 L136.5 310.91 L137.5 310.94 L138.5 310.97 L139.5 310.99 L140.5 311.01 L141.5 311.02 L142.5 311.04 L143.5 311.05 L144.5 311.06 L145.5 311.06 L146.5 311.07 L147.5 311.07 L148.5 311.07 L149.5 311.07 L150.5 311.07 L151.5 311.06 L152.5 311.06 L153.5 311.05 L154.5 311.05 L155.5 311.04 L156.5 311.03 L157.5 311.02 L158.5 311.02 L159.5 311.01 L160.5 311 L161.5 310.99 L162.5 310.98 L163.5 310.98 L164.5 310.97 L165.5 310.96 L166.5 310.96 L167.5 310.95 L168.5 310.94 L169.5 310.94 L170.5 310.93 L171.5 310.92 L172.5 310.92 L173.5 310.91 L174.5 310.91 L175.5 310.9 L176.5 310.89 L177.5 310.89 L178.5 310.88 L179.5 310.88 L180.5 310.87 L181.5 310.87 L182.5 310.86 L183.5 310.85 L184.5 310.85 L185.5 310.84 L186.5 310.84 L187.5 310.83 L188.5 310.83 L189.5 310.82 L190.5 310.81 L191.5 310.81 L192.5 310.8 L193.5 310.8 L194.5 310.79 L195.5 310.78 L196.5 310.78 L197.5 310.77 L198.5 310.76 L199.5 310.76 L200.5 310.75 L201.5 310.74 L202.5 310.73 L203.5 310.73 L204.5 310.72 L205.5 310.71 L206.5 310.7 L207.5 310.69 L208.5 310.68 L209.5 310.67 L210.5 310.66 L211.5 310.65 L212.5 310.64 L213.5 310.63 L214.5 310.62 L215.5 310.61 L216.5 310.6 L217.5 310.59 L218.5 310.57 L219.5 310.56 L220.5 310.55 L221.5 310.53 L222.5 310.52 L223.5 310.51 L224.5 310.49 L225.5 310.47 L226.5 310.46 L227.5 310.44 L228.5 310.43 L229.5 310.41 L230.5 310.39 L231.5 310.37 L232.5 310.35 L233.5 310.33 L234.5 310.31 L235.5 310.29 L236.5 310.27 L237.5 310.25 L238.5 310.23 L239.5 310.21 L240.5 310.19 L241.5 310.16 L242.5 310.14 L243.5 310.12 L244.5 310.1 L245.5 310.07 L246.5 310.05 L247.5 310.02 L248.5 310 L249.5 309.98 L250.5 309.95 L251.5 309.93 L252.5 309.9 L253.5 309.88 L254.5 309.85 L255.5 309.82 L256.5 309.8 L257.5 309.77 L258.5 309.75 L259.5 309.72 L260.5 309.7 L261.5 309.67 L262.5 309.64 L263.5 309.62 L264.5 309.59 L265.5 309.57 L266.5 309.54 L267.5 309.52 L268.5 309.49 L269.5 309.47 L270.5 309.44 L271.5 309.42 L272.5 309.39 L273.5 309.37 L274.5 309.34 L275.5 309.32 L276.5 309.29 L277.5 309.27 L278.5 309.25 L279.5 309.22 L280.5 309.2 L281.5 309.18 L282.5 309.16 L283.5 309.13 L284.5 309.11 L285.5 309.09 L286.5 309.07 L287.5 309.05 L288.5 309.03 L289.5 309.01 L290.5 308.99 L291.5 308.97 L292.5 308.95 L293.5 308.94 L294.5 308.92 L295.5 308.9 L296.5 308.89 L297.5 308.87 L298.5 308.86 L299.5 308.84 L300.5 308.83 L301.5 308.81 L302.5 308.8 L303.5 308.78 L304.5 308.77 L305.5 308.76 L306.5 308.75 L307.5 308.74 L308.5 308.72 L309.5 308.71 L310.5 308.7 L311.5 308.69 L312.5 308.68 L313.5 308.67 L314.5 308.66 L315.5 308.65 L316.5 308.65 L317.5 308.64 L318.5 308.63 L319.5 308.62 L320.5 308.62 L321.5 308.61 L322.5 308.6 L323.5 308.6 L324.5 308.59 L325.5 308.58 L326.5 308.58 L327.5 308.57 L328.5 308.57 L329.5 308.56 L330.5 308.56 L331.5 308.56 L332.5 308.55 L333.5 308.55 L334.5 308.55 L335.5 308.54 L336.5 308.54 L337.5 308.54 L338.5 308.54 L339.5 308.53 L340.5 308.53 L341.5 308.53 L342.5 308.53 L343.5 308.53 L344.5 308.53 L345.5 308.53 L346.5 308.53 L347.5 308.53 L348.5 308.53 L349.5 308.53 L350.5 308.53 L351.5 308.53 L352.5 308.53 L353.5 308.53 L354.5 308.53 L355.5 308.53 L356.5 308.53 L357.5 308.53 L358.5 308.53 L359.5 308.53 L360.5 308.54 L361.5 308.54 L362.5 308.54 L363.5 308.54 L364.5 308.54 L365.5 308.55 L366.5 308.55 L367.5 308.55 L368.5 308.55 L369.5 308.56 L370.5 308.56 L371.5 308.56 L372.5 308.56 L373.5 308.57 L374.5 308.57 L375.5 308.57 L376.5 308.58 L377.5 308.58 L378.5 308.58 L379.5 308.58 L380.5 308.59 L381.5 308.59 L382.5 308.59 L383.5 308.6 L384.4 308.6" fill="none" stroke="#b91a20" stroke-width="2.0" stroke-dasharray="3.8 3.2" clip-path="url(#c02)" stroke-linejoin="round"/>
<path d="M44.8 323.95 L45.8 323.96 L46.8 323.97 L47.8 324 L48.8 324.04 L49.8 324.11 L50.8 324.2 L51.8 324.32 L52.8 324.47 L53.8 324.65 L54.8 324.86 L55.8 325.09 L56.8 325.33 L57.8 325.59 L58.8 325.85 L59.8 326.12 L60.8 326.38 L61.8 326.65 L62.8 326.9 L63.8 327.16 L64.8 327.4 L65.8 327.63 L66.8 327.85 L67.8 328.05 L68.8 328.24 L69.8 328.41 L70.8 328.57 L71.8 328.71 L72.8 328.84 L73.8 328.96 L74.8 329.06 L75.8 329.15 L76.8 329.23 L77.8 329.29 L78.8 329.34 L79.8 329.37 L80.8 329.39 L81.8 329.4 L82.8 329.39 L83.8 329.36 L84.8 329.32 L85.8 329.27 L86.8 329.2 L87.8 329.11 L88.8 329.01 L89.8 328.9 L90.8 328.77 L91.8 328.62 L92.8 328.47 L93.8 328.3 L94.8 328.13 L95.8 327.95 L96.8 327.77 L97.8 327.58 L98.8 327.4 L99.8 327.21 L100.8 327.02 L101.8 326.83 L102.8 326.64 L103.8 326.46 L104.8 326.27 L105.8 326.09 L106.8 325.91 L107.8 325.73 L108.8 325.55 L109.8 325.38 L110.8 325.21 L111.8 325.04 L112.8 324.87 L113.8 324.7 L114.8 324.54 L115.8 324.38 L116.8 324.22 L117.8 324.06 L118.8 323.9 L119.8 323.75 L120.8 323.59 L121.8 323.44 L122.8 323.3 L123.8 323.15 L124.8 323.01 L125.8 322.86 L126.8 322.72 L127.8 322.58 L128.8 322.45 L129.8 322.31 L130.8 322.18 L131.8 322.05 L132.8 321.92 L133.8 321.79 L134.8 321.67 L135.8 321.54 L136.8 321.42 L137.8 321.3 L138.8 321.18 L139.8 321.07 L140.8 320.95 L141.8 320.84 L142.8 320.73 L143.8 320.62 L144.8 320.52 L145.8 320.41 L146.8 320.31 L147.8 320.2 L148.8 320.1 L149.8 320.01 L150.8 319.91 L151.8 319.82 L152.8 319.72 L153.8 319.63 L154.8 319.54 L155.8 319.45 L156.8 319.37 L157.8 319.28 L158.8 319.2 L159.8 319.12 L160.8 319.04 L161.8 318.96 L162.8 318.88 L163.8 318.81 L164.8 318.74 L165.8 318.66 L166.8 318.59 L167.8 318.52 L168.8 318.45 L169.8 318.38 L170.8 318.32 L171.8 318.25 L172.8 318.19 L173.8 318.12 L174.8 318.06 L175.8 317.99 L176.8 317.93 L177.8 317.87 L178.8 317.81 L179.8 317.75 L180.8 317.68 L181.8 317.62 L182.8 317.56 L183.8 317.5 L184.8 317.44 L185.8 317.38 L186.8 317.32 L187.8 317.26 L188.8 317.19 L189.8 317.13 L190.8 317.07 L191.8 317 L192.8 316.94 L193.8 316.87 L194.8 316.81 L195.8 316.74 L196.8 316.68 L197.8 316.61 L198.8 316.54 L199.8 316.47 L200.8 316.4 L201.8 316.33 L202.8 316.26 L203.8 316.19 L204.8 316.11 L205.8 316.04 L206.8 315.97 L207.8 315.9 L208.8 315.83 L209.8 315.75 L210.8 315.68 L211.8 315.61 L212.8 315.54 L213.8 315.47 L214.8 315.4 L215.8 315.33 L216.8 315.26 L217.8 315.19 L218.8 315.12 L219.8 315.05 L220.8 314.98 L221.8 314.91 L222.8 314.85 L223.8 314.78 L224.8 314.72 L225.8 314.65 L226.8 314.59 L227.8 314.53 L228.8 314.47 L229.8 314.41 L230.8 314.36 L231.8 314.3 L232.8 314.25 L233.8 314.19 L234.8 314.14 L235.8 314.09 L236.8 314.04 L237.8 313.99 L238.8 313.95 L239.8 313.9 L240.8 313.86 L241.8 313.81 L242.8 313.77 L243.8 313.73 L244.8 313.69 L245.8 313.65 L246.8 313.61 L247.8 313.58 L248.8 313.54 L249.8 313.51 L250.8 313.47 L251.8 313.44 L252.8 313.41 L253.8 313.37 L254.8 313.34 L255.8 313.31 L256.8 313.28 L257.8 313.25 L258.8 313.23 L259.8 313.2 L260.8 313.17 L261.8 313.15 L262.8 313.12 L263.8 313.1 L264.8 313.07 L265.8 313.05 L266.8 313.03 L267.8 313.01 L268.8 312.98 L269.8 312.96 L270.8 312.94 L271.8 312.92 L272.8 312.9 L273.8 312.88 L274.8 312.86 L275.8 312.84 L276.8 312.83 L277.8 312.81 L278.8 312.79 L279.8 312.77 L280.8 312.75 L281.8 312.74 L282.8 312.72 L283.8 312.7 L284.8 312.69 L285.8 312.67 L286.8 312.65 L287.8 312.64 L288.8 312.62 L289.8 312.6 L290.8 312.59 L291.8 312.57 L292.8 312.55 L293.8 312.54 L294.8 312.52 L295.8 312.5 L296.8 312.49 L297.8 312.47 L298.8 312.45 L299.8 312.44 L300.8 312.42 L301.8 312.4 L302.8 312.39 L303.8 312.37 L304.8 312.35 L305.8 312.34 L306.8 312.32 L307.8 312.3 L308.8 312.29 L309.8 312.27 L310.8 312.25 L311.8 312.24 L312.8 312.22 L313.8 312.2 L314.8 312.19 L315.8 312.17 L316.8 312.15 L317.8 312.13 L318.8 312.12 L319.8 312.1 L320.8 312.08 L321.8 312.07 L322.8 312.05 L323.8 312.03 L324.8 312.02 L325.8 312 L326.8 311.98 L327.8 311.97 L328.8 311.95 L329.8 311.93 L330.8 311.91 L331.8 311.9 L332.8 311.88 L333.8 311.86 L334.8 311.85 L335.8 311.83 L336.8 311.81 L337.8 311.8 L338.8 311.78 L339.8 311.76 L340.8 311.75 L341.8 311.73 L342.8 311.71 L343.8 311.69 L344.8 311.68 L345.8 311.66 L346.8 311.64 L347.8 311.63 L348.8 311.61 L349.8 311.59 L350.8 311.57 L351.8 311.56 L352.8 311.54 L353.8 311.52 L354.8 311.51 L355.8 311.49 L356.8 311.47 L357.8 311.46 L358.8 311.44 L359.8 311.42 L360.8 311.4 L361.8 311.39 L362.8 311.37 L363.8 311.35 L364.8 311.34 L365.8 311.32 L366.8 311.3 L367.8 311.28 L368.8 311.27 L369.8 311.25 L370.8 311.23 L371.8 311.22 L372.8 311.2 L373.8 311.18 L374.8 311.16 L375.8 311.15 L376.8 311.13 L377.8 311.11 L378.8 311.1 L379.8 311.08 L380.8 311.06 L381.8 311.04 L382.8 311.03 L383.8 311.01 L384.4 311" fill="none" stroke="#4287d0" stroke-width="2.0" clip-path="url(#c02)" stroke-linejoin="round"/>
<path d="M489.5 259 L490.5 261.89 L491.5 264.79 L492.5 267.92 L493.5 271.1 L494.5 273.89 L495.5 275.96 L496.5 277.69 L497.5 279.21 L498.5 280.58 L499.5 281.85 L500.5 283.07 L501.5 284.29 L502.5 285.57 L503.5 286.91 L504.5 288.26 L505.5 289.59 L506.5 290.89 L507.5 292.12 L508.5 293.27 L509.5 294.3 L510.5 295.26 L511.5 296.16 L512.5 297.01 L513.5 297.82 L514.5 298.59 L515.5 299.33 L516.5 300.04 L517.5 300.72 L518.5 301.38 L519.5 302.02 L520.5 302.62 L521.5 303.19 L522.5 303.74 L523.5 304.25 L524.5 304.72 L525.5 305.15 L526.5 305.55 L527.5 305.95 L528.5 306.35 L529.5 306.78 L530.5 307.24 L531.5 307.74 L532.5 308.26 L533.5 308.76 L534.5 309.22 L535.5 309.62 L536.5 310.01 L537.5 310.39 L538.5 310.76 L539.5 311.12 L540.5 311.46 L541.5 311.79 L542.5 312.1 L543.5 312.39 L544.5 312.66 L545.5 312.91 L546.5 313.14 L547.5 313.34 L548.5 313.54 L549.5 313.74 L550.5 313.93 L551.5 314.12 L552.5 314.3 L553.5 314.47 L554.5 314.64 L555.5 314.81 L556.5 314.97 L557.5 315.12 L558.5 315.27 L559.5 315.41 L560.5 315.54 L561.5 315.67 L562.5 315.8 L563.5 315.91 L564.5 316.02 L565.5 316.12 L566.5 316.22 L567.5 316.31 L568.5 316.39 L569.5 316.47 L570.5 316.53 L571.5 316.6 L572.5 316.66 L573.5 316.73 L574.5 316.79 L575.5 316.85 L576.5 316.92 L577.5 316.98 L578.5 317.04 L579.5 317.09 L580.5 317.15 L581.5 317.21 L582.5 317.26 L583.5 317.32 L584.5 317.37 L585.5 317.42 L586.5 317.47 L587.5 317.52 L588.5 317.57 L589.5 317.62 L590.5 317.67 L591.5 317.71 L592.5 317.76 L593.5 317.8 L594.5 317.84 L595.5 317.88 L596.5 317.92 L597.5 317.96 L598.5 318 L599.5 318.03 L600.5 318.07 L601.5 318.1 L602.5 318.14 L603.5 318.17 L604.5 318.2 L605.5 318.23 L606.5 318.25 L607.5 318.28 L608.5 318.31 L609.5 318.33 L610.5 318.35 L611.5 318.37 L612.5 318.39 L613.5 318.41 L614.5 318.43 L615.5 318.45 L616.5 318.46 L617.5 318.47 L618.5 318.48 L619.5 318.5 L620.5 318.5 L621.5 318.51 L622.5 318.52 L623.5 318.53 L624.5 318.54 L625.5 318.55 L626.5 318.56 L627.5 318.57 L628.5 318.57 L629.5 318.58 L630.5 318.59 L631.5 318.6 L632.5 318.6 L633.5 318.61 L634.5 318.62 L635.5 318.63 L636.5 318.63 L637.5 318.64 L638.5 318.65 L639.5 318.66 L640.5 318.66 L641.5 318.67 L642.5 318.67 L643.5 318.68 L644.5 318.69 L645.5 318.69 L646.5 318.7 L647.5 318.7 L648.5 318.71 L649.5 318.72 L650.5 318.72 L651.5 318.73 L652.5 318.73 L653.5 318.74 L654.5 318.74 L655.5 318.74 L656.5 318.75 L657.5 318.75 L658.5 318.76 L659.5 318.76 L660.5 318.76 L661.5 318.77 L662.5 318.77 L663.5 318.77 L664.5 318.78 L665.5 318.78 L666.5 318.78 L667.5 318.79 L668.5 318.79 L669.5 318.79 L670.5 318.79 L671.5 318.79 L672.5 318.79 L673.5 318.8 L674.5 318.8 L675.5 318.8 L676.5 318.8 L677.5 318.8 L678.5 318.8 L679.5 318.8 L680.5 318.8 L681.5 318.8 L682.5 318.79 L683.5 318.79 L684.5 318.78 L685.5 318.77 L686.5 318.76 L687.5 318.75 L688.5 318.74 L689.5 318.72 L690.5 318.71 L691.5 318.69 L692.5 318.67 L693.5 318.65 L694.5 318.63 L695.5 318.61 L696.5 318.58 L697.5 318.56 L698.5 318.54 L699.5 318.51 L700.5 318.48 L701.5 318.45 L702.5 318.43 L703.5 318.4 L704.5 318.37 L705.5 318.34 L706.5 318.3 L707.5 318.27 L708.5 318.24 L709.5 318.21 L710.5 318.18 L711.5 318.14 L712.5 318.11 L713.5 318.08 L714.5 318.04 L715.5 318.01 L716.5 317.98 L717.5 317.94 L718.5 317.91 L719.5 317.87 L720.5 317.84 L721.5 317.81 L722.5 317.78 L723.5 317.74 L724.5 317.71 L725.5 317.68 L726.5 317.65 L727.5 317.62 L728.5 317.59 L729.5 317.56 L730.5 317.53 L731.5 317.5 L732.5 317.47 L733.5 317.45 L734.5 317.42 L735.5 317.4 L736.5 317.37 L737.5 317.35 L738.5 317.33 L739.5 317.31 L740.5 317.29 L741.5 317.27 L742.5 317.25 L743.5 317.23 L744.5 317.22 L745.5 317.2 L746.5 317.18 L747.5 317.16 L748.5 317.14 L749.5 317.12 L750.5 317.11 L751.5 317.09 L752.5 317.07 L753.5 317.05 L754.5 317.04 L755.5 317.02 L756.5 317 L757.5 316.98 L758.5 316.97 L759.5 316.95 L760.5 316.93 L761.5 316.92 L762.5 316.9 L763.5 316.89 L764.5 316.87 L765.5 316.85 L766.5 316.84 L767.5 316.82 L768.5 316.81 L769.5 316.79 L770.5 316.78 L771.5 316.76 L772.5 316.75 L773.5 316.73 L774.5 316.72 L775.5 316.7 L776.5 316.69 L777.5 316.68 L778.5 316.66 L779.5 316.65 L780.5 316.64 L781.5 316.62 L782.5 316.61 L783.5 316.6 L784.5 316.58 L785.5 316.57 L786.5 316.56 L787.5 316.55 L788.5 316.54 L789.5 316.52 L790.5 316.51 L791.5 316.5 L791.6 316.5" fill="none" stroke="#b91a20" stroke-width="2.0" stroke-dasharray="3.8 3.2" clip-path="url(#c12)" stroke-linejoin="round"/>
<path d="M454.8 259 L455.8 264.02 L456.8 268.83 L457.8 273.54 L458.8 278.04 L459.8 282.21 L460.8 286.04 L461.8 289.67 L462.8 293.27 L463.8 296.96 L464.8 300.66 L465.8 304.26 L466.8 307.66 L467.8 310.98 L468.8 314.14 L469.8 316.95 L470.8 319.31 L471.8 321.39 L472.8 323.25 L473.8 324.97 L474.8 326.59 L475.8 328.13 L476.8 329.59 L477.8 330.95 L478.8 332.19 L479.8 333.32 L480.8 334.36 L481.8 335.34 L482.8 336.25 L483.8 337.08 L484.8 337.83 L485.8 338.49 L486.8 339.11 L487.8 339.69 L488.8 340.23 L489.8 340.72 L490.8 341.17 L491.8 341.54 L492.8 341.86 L493.8 342.15 L494.8 342.44 L495.8 342.71 L496.8 342.97 L497.8 343.19 L498.8 343.39 L499.8 343.54 L500.8 343.65 L501.8 343.7 L502.8 343.7 L503.8 343.68 L504.8 343.65 L505.8 343.6 L506.8 343.55 L507.8 343.49 L508.8 343.42 L509.8 343.35 L510.8 343.27 L511.8 343.18 L512.8 343.07 L513.8 342.92 L514.8 342.74 L515.8 342.54 L516.8 342.32 L517.8 342.08 L518.8 341.84 L519.8 341.6 L520.8 341.37 L521.8 341.14 L522.8 340.89 L523.8 340.64 L524.8 340.38 L525.8 340.11 L526.8 339.84 L527.8 339.57 L528.8 339.31 L529.8 339.05 L530.8 338.8 L531.8 338.55 L532.8 338.3 L533.8 338.05 L534.8 337.8 L535.8 337.54 L536.8 337.3 L537.8 337.05 L538.8 336.8 L539.8 336.56 L540.8 336.32 L541.8 336.09 L542.8 335.86 L543.8 335.64 L544.8 335.42 L545.8 335.21 L546.8 335 L547.8 334.8 L548.8 334.6 L549.8 334.41 L550.8 334.22 L551.8 334.03 L552.8 333.85 L553.8 333.67 L554.8 333.49 L555.8 333.31 L556.8 333.14 L557.8 332.97 L558.8 332.8 L559.8 332.63 L560.8 332.46 L561.8 332.3 L562.8 332.14 L563.8 331.98 L564.8 331.82 L565.8 331.66 L566.8 331.5 L567.8 331.34 L568.8 331.19 L569.8 331.03 L570.8 330.88 L571.8 330.72 L572.8 330.57 L573.8 330.41 L574.8 330.26 L575.8 330.1 L576.8 329.95 L577.8 329.8 L578.8 329.65 L579.8 329.5 L580.8 329.35 L581.8 329.2 L582.8 329.05 L583.8 328.91 L584.8 328.76 L585.8 328.62 L586.8 328.48 L587.8 328.34 L588.8 328.2 L589.8 328.06 L590.8 327.93 L591.8 327.8 L592.8 327.67 L593.8 327.54 L594.8 327.41 L595.8 327.29 L596.8 327.17 L597.8 327.05 L598.8 326.93 L599.8 326.82 L600.8 326.71 L601.8 326.6 L602.8 326.5 L603.8 326.39 L604.8 326.29 L605.8 326.18 L606.8 326.08 L607.8 325.98 L608.8 325.88 L609.8 325.79 L610.8 325.69 L611.8 325.6 L612.8 325.5 L613.8 325.41 L614.8 325.32 L615.8 325.23 L616.8 325.14 L617.8 325.05 L618.8 324.96 L619.8 324.87 L620.8 324.78 L621.8 324.7 L622.8 324.61 L623.8 324.53 L624.8 324.44 L625.8 324.36 L626.8 324.28 L627.8 324.19 L628.8 324.11 L629.8 324.03 L630.8 323.95 L631.8 323.87 L632.8 323.78 L633.8 323.7 L634.8 323.62 L635.8 323.54 L636.8 323.46 L637.8 323.38 L638.8 323.3 L639.8 323.22 L640.8 323.13 L641.8 323.05 L642.8 322.97 L643.8 322.89 L644.8 322.81 L645.8 322.73 L646.8 322.65 L647.8 322.57 L648.8 322.49 L649.8 322.41 L650.8 322.34 L651.8 322.26 L652.8 322.18 L653.8 322.1 L654.8 322.02 L655.8 321.95 L656.8 321.87 L657.8 321.79 L658.8 321.71 L659.8 321.64 L660.8 321.56 L661.8 321.49 L662.8 321.41 L663.8 321.33 L664.8 321.26 L665.8 321.19 L666.8 321.11 L667.8 321.04 L668.8 320.96 L669.8 320.89 L670.8 320.82 L671.8 320.74 L672.8 320.67 L673.8 320.6 L674.8 320.52 L675.8 320.45 L676.8 320.38 L677.8 320.31 L678.8 320.24 L679.8 320.17 L680.8 320.1 L681.8 320.03 L682.8 319.96 L683.8 319.89 L684.8 319.82 L685.8 319.75 L686.8 319.68 L687.8 319.61 L688.8 319.54 L689.8 319.47 L690.8 319.41 L691.8 319.34 L692.8 319.27 L693.8 319.21 L694.8 319.14 L695.8 319.07 L696.8 319.01 L697.8 318.94 L698.8 318.88 L699.8 318.81 L700.8 318.75 L701.8 318.68 L702.8 318.62 L703.8 318.56 L704.8 318.49 L705.8 318.43 L706.8 318.37 L707.8 318.3 L708.8 318.24 L709.8 318.18 L710.8 318.11 L711.8 318.05 L712.8 317.99 L713.8 317.93 L714.8 317.87 L715.8 317.81 L716.8 317.74 L717.8 317.68 L718.8 317.62 L719.8 317.56 L720.8 317.5 L721.8 317.44 L722.8 317.38 L723.8 317.33 L724.8 317.27 L725.8 317.21 L726.8 317.15 L727.8 317.09 L728.8 317.03 L729.8 316.98 L730.8 316.92 L731.8 316.86 L732.8 316.81 L733.8 316.75 L734.8 316.7 L735.8 316.64 L736.8 316.59 L737.8 316.53 L738.8 316.48 L739.8 316.42 L740.8 316.37 L741.8 316.32 L742.8 316.27 L743.8 316.21 L744.8 316.16 L745.8 316.11 L746.8 316.06 L747.8 316.01 L748.8 315.96 L749.8 315.91 L750.8 315.86 L751.8 315.81 L752.8 315.76 L753.8 315.71 L754.8 315.67 L755.8 315.62 L756.8 315.57 L757.8 315.52 L758.8 315.48 L759.8 315.43 L760.8 315.38 L761.8 315.34 L762.8 315.29 L763.8 315.24 L764.8 315.2 L765.8 315.15 L766.8 315.11 L767.8 315.07 L768.8 315.02 L769.8 314.98 L770.8 314.93 L771.8 314.89 L772.8 314.85 L773.8 314.8 L774.8 314.76 L775.8 314.72 L776.8 314.68 L777.8 314.64 L778.8 314.6 L779.8 314.56 L780.8 314.52 L781.8 314.48 L782.8 314.44 L783.8 314.4 L784.8 314.36 L785.8 314.32 L786.8 314.28 L787.8 314.24 L788.8 314.2 L789.8 314.17 L790.8 314.13 L791.6 314.1" fill="none" stroke="#4287d0" stroke-width="2.0" clip-path="url(#c12)" stroke-linejoin="round"/>
<path d="M55.94 24.6v3.3M55.94 150.5v-3.3M80.07 24.6v3.3M80.07 150.5v-3.3M97.18 24.6v3.3M97.18 150.5v-3.3M110.46 24.6v3.3M110.46 150.5v-3.3M121.31 24.6v3.3M121.31 150.5v-3.3M130.48 24.6v3.3M130.48 150.5v-3.3M138.42 24.6v3.3M138.42 150.5v-3.3M145.43 24.6v3.3M145.43 150.5v-3.3M151.7 24.6v7M151.7 150.5v-7M192.94 24.6v3.3M192.94 150.5v-3.3M217.07 24.6v3.3M217.07 150.5v-3.3M234.18 24.6v3.3M234.18 150.5v-3.3M247.46 24.6v3.3M247.46 150.5v-3.3M258.31 24.6v3.3M258.31 150.5v-3.3M267.48 24.6v3.3M267.48 150.5v-3.3M275.42 24.6v3.3M275.42 150.5v-3.3M282.43 24.6v3.3M282.43 150.5v-3.3M288.7 24.6v7M288.7 150.5v-7M329.94 24.6v3.3M329.94 150.5v-3.3M354.07 24.6v3.3M354.07 150.5v-3.3M371.18 24.6v3.3M371.18 150.5v-3.3M44.8 136.51h7M384.4 136.51h-7M44.8 122.52h7M384.4 122.52h-7M44.8 108.53h7M384.4 108.53h-7M44.8 94.54h7M384.4 94.54h-7M44.8 80.56h7M384.4 80.56h-7M44.8 66.57h7M384.4 66.57h-7M44.8 52.58h7M384.4 52.58h-7M44.8 38.59h7M384.4 38.59h-7" stroke="#303030" stroke-width="1.2" fill="none"/>
<text transform="translate(22.15,154.15) scale(1.0948,1)" font-size="10.3" font-weight="normal" fill="#242424" stroke="#242424" stroke-width="0.12"><tspan font-style="normal">0.0</tspan></text>
<text transform="translate(22.14,140.16) scale(1.1053,1)" font-size="10.3" font-weight="normal" fill="#242424" stroke="#242424" stroke-width="0.12"><tspan font-style="normal">0.2</tspan></text>
<text transform="translate(22.15,126.17) scale(1.0865,1)" font-size="10.3" font-weight="normal" fill="#242424" stroke="#242424" stroke-width="0.12"><tspan font-style="normal">0.4</tspan></text>
<text transform="translate(22.15,112.18) scale(1.0990,1)" font-size="10.3" font-weight="normal" fill="#242424" stroke="#242424" stroke-width="0.12"><tspan font-style="normal">0.6</tspan></text>
<text transform="translate(22.15,98.19) scale(1.0990,1)" font-size="10.3" font-weight="normal" fill="#242424" stroke="#242424" stroke-width="0.12"><tspan font-style="normal">0.8</tspan></text>
<text transform="translate(21.73,84.21) scale(1.1248,1)" font-size="10.3" font-weight="normal" fill="#242424" stroke="#242424" stroke-width="0.12"><tspan font-style="normal">1.0</tspan></text>
<text transform="translate(21.72,70.22) scale(1.1359,1)" font-size="10.3" font-weight="normal" fill="#242424" stroke="#242424" stroke-width="0.12"><tspan font-style="normal">1.2</tspan></text>
<text transform="translate(21.74,56.23) scale(1.1160,1)" font-size="10.3" font-weight="normal" fill="#242424" stroke="#242424" stroke-width="0.12"><tspan font-style="normal">1.4</tspan></text>
<text transform="translate(21.73,42.24) scale(1.1292,1)" font-size="10.3" font-weight="normal" fill="#242424" stroke="#242424" stroke-width="0.12"><tspan font-style="normal">1.6</tspan></text>
<text transform="translate(21.73,28.25) scale(1.1292,1)" font-size="10.3" font-weight="normal" fill="#242424" stroke="#242424" stroke-width="0.12"><tspan font-style="normal">1.8</tspan></text>
<path d="M55.94 165.5v3.3M55.94 249.5v-3.3M80.07 165.5v3.3M80.07 249.5v-3.3M97.18 165.5v3.3M97.18 249.5v-3.3M110.46 165.5v3.3M110.46 249.5v-3.3M121.31 165.5v3.3M121.31 249.5v-3.3M130.48 165.5v3.3M130.48 249.5v-3.3M138.42 165.5v3.3M138.42 249.5v-3.3M145.43 165.5v3.3M145.43 249.5v-3.3M151.7 165.5v7M151.7 249.5v-7M192.94 165.5v3.3M192.94 249.5v-3.3M217.07 165.5v3.3M217.07 249.5v-3.3M234.18 165.5v3.3M234.18 249.5v-3.3M247.46 165.5v3.3M247.46 249.5v-3.3M258.31 165.5v3.3M258.31 249.5v-3.3M267.48 165.5v3.3M267.48 249.5v-3.3M275.42 165.5v3.3M275.42 249.5v-3.3M282.43 165.5v3.3M282.43 249.5v-3.3M288.7 165.5v7M288.7 249.5v-7M329.94 165.5v3.3M329.94 249.5v-3.3M354.07 165.5v3.3M354.07 249.5v-3.3M371.18 165.5v3.3M371.18 249.5v-3.3M44.8 235.5h7M384.4 235.5h-7M44.8 221.5h7M384.4 221.5h-7M44.8 207.5h7M384.4 207.5h-7M44.8 193.5h7M384.4 193.5h-7M44.8 179.5h7M384.4 179.5h-7" stroke="#303030" stroke-width="1.2" fill="none"/>
<text transform="translate(22.14,253.15) scale(1.1053,1)" font-size="10.3" font-weight="normal" fill="#242424" stroke="#242424" stroke-width="0.12"><tspan font-style="normal">0.7</tspan></text>
<text transform="translate(22.15,239.15) scale(1.0990,1)" font-size="10.3" font-weight="normal" fill="#242424" stroke="#242424" stroke-width="0.12"><tspan font-style="normal">0.8</tspan></text>
<text transform="translate(22.15,225.15) scale(1.1011,1)" font-size="10.3" font-weight="normal" fill="#242424" stroke="#242424" stroke-width="0.12"><tspan font-style="normal">0.9</tspan></text>
<text transform="translate(21.73,211.15) scale(1.1248,1)" font-size="10.3" font-weight="normal" fill="#242424" stroke="#242424" stroke-width="0.12"><tspan font-style="normal">1.0</tspan></text>
<text transform="translate(21.72,197.15) scale(1.1336,1)" font-size="10.3" font-weight="normal" fill="#242424" stroke="#242424" stroke-width="0.12"><tspan font-style="normal">1.1</tspan></text>
<text transform="translate(21.72,183.15) scale(1.1359,1)" font-size="10.3" font-weight="normal" fill="#242424" stroke="#242424" stroke-width="0.12"><tspan font-style="normal">1.2</tspan></text>
<text transform="translate(21.73,169.15) scale(1.1292,1)" font-size="10.3" font-weight="normal" fill="#242424" stroke="#242424" stroke-width="0.12"><tspan font-style="normal">1.3</tspan></text>
<path d="M55.94 264.5v3.3M55.94 348.5v-3.3M80.07 264.5v3.3M80.07 348.5v-3.3M97.18 264.5v3.3M97.18 348.5v-3.3M110.46 264.5v3.3M110.46 348.5v-3.3M121.31 264.5v3.3M121.31 348.5v-3.3M130.48 264.5v3.3M130.48 348.5v-3.3M138.42 264.5v3.3M138.42 348.5v-3.3M145.43 264.5v3.3M145.43 348.5v-3.3M151.7 264.5v7M151.7 348.5v-7M192.94 264.5v3.3M192.94 348.5v-3.3M217.07 264.5v3.3M217.07 348.5v-3.3M234.18 264.5v3.3M234.18 348.5v-3.3M247.46 264.5v3.3M247.46 348.5v-3.3M258.31 264.5v3.3M258.31 348.5v-3.3M267.48 264.5v3.3M267.48 348.5v-3.3M275.42 264.5v3.3M275.42 348.5v-3.3M282.43 264.5v3.3M282.43 348.5v-3.3M288.7 264.5v7M288.7 348.5v-7M329.94 264.5v3.3M329.94 348.5v-3.3M354.07 264.5v3.3M354.07 348.5v-3.3M371.18 264.5v3.3M371.18 348.5v-3.3M44.8 334.5h7M384.4 334.5h-7M44.8 320.5h7M384.4 320.5h-7M44.8 306.5h7M384.4 306.5h-7M44.8 292.5h7M384.4 292.5h-7M44.8 278.5h7M384.4 278.5h-7" stroke="#303030" stroke-width="1.2" fill="none"/>
<text transform="translate(22.14,352.15) scale(1.1053,1)" font-size="10.3" font-weight="normal" fill="#242424" stroke="#242424" stroke-width="0.12"><tspan font-style="normal">0.7</tspan></text>
<text transform="translate(22.15,338.15) scale(1.0990,1)" font-size="10.3" font-weight="normal" fill="#242424" stroke="#242424" stroke-width="0.12"><tspan font-style="normal">0.8</tspan></text>
<text transform="translate(22.15,324.15) scale(1.1011,1)" font-size="10.3" font-weight="normal" fill="#242424" stroke="#242424" stroke-width="0.12"><tspan font-style="normal">0.9</tspan></text>
<text transform="translate(21.73,310.15) scale(1.1248,1)" font-size="10.3" font-weight="normal" fill="#242424" stroke="#242424" stroke-width="0.12"><tspan font-style="normal">1.0</tspan></text>
<text transform="translate(21.72,296.15) scale(1.1336,1)" font-size="10.3" font-weight="normal" fill="#242424" stroke="#242424" stroke-width="0.12"><tspan font-style="normal">1.1</tspan></text>
<text transform="translate(21.72,282.15) scale(1.1359,1)" font-size="10.3" font-weight="normal" fill="#242424" stroke="#242424" stroke-width="0.12"><tspan font-style="normal">1.2</tspan></text>
<text transform="translate(21.73,268.15) scale(1.1292,1)" font-size="10.3" font-weight="normal" fill="#242424" stroke="#242424" stroke-width="0.12"><tspan font-style="normal">1.3</tspan></text>
<path d="M463.24 24.6v3.3M463.24 150.5v-3.3M487.37 24.6v3.3M487.37 150.5v-3.3M504.48 24.6v3.3M504.48 150.5v-3.3M517.76 24.6v3.3M517.76 150.5v-3.3M528.61 24.6v3.3M528.61 150.5v-3.3M537.78 24.6v3.3M537.78 150.5v-3.3M545.72 24.6v3.3M545.72 150.5v-3.3M552.73 24.6v3.3M552.73 150.5v-3.3M559 24.6v7M559 150.5v-7M600.24 24.6v3.3M600.24 150.5v-3.3M624.37 24.6v3.3M624.37 150.5v-3.3M641.48 24.6v3.3M641.48 150.5v-3.3M654.76 24.6v3.3M654.76 150.5v-3.3M665.61 24.6v3.3M665.61 150.5v-3.3M674.78 24.6v3.3M674.78 150.5v-3.3M682.72 24.6v3.3M682.72 150.5v-3.3M689.73 24.6v3.3M689.73 150.5v-3.3M696 24.6v7M696 150.5v-7M737.24 24.6v3.3M737.24 150.5v-3.3M761.37 24.6v3.3M761.37 150.5v-3.3M778.48 24.6v3.3M778.48 150.5v-3.3M452.1 129.52h7M791.7 129.52h-7M452.1 108.53h7M791.7 108.53h-7M452.1 87.55h7M791.7 87.55h-7M452.1 66.57h7M791.7 66.57h-7M452.1 45.58h7M791.7 45.58h-7" stroke="#303030" stroke-width="1.2" fill="none"/>
<text transform="translate(437.87,154.15) scale(1.2809,1)" font-size="10.3" font-weight="normal" fill="#242424" stroke="#242424" stroke-width="0.12"><tspan font-style="normal">0</tspan></text>
<text transform="translate(437.71,133.17) scale(1.3443,1)" font-size="10.3" font-weight="normal" fill="#242424" stroke="#242424" stroke-width="0.12"><tspan font-style="normal">2</tspan></text>
<text transform="translate(438.12,112.18) scale(1.2112,1)" font-size="10.3" font-weight="normal" fill="#242424" stroke="#242424" stroke-width="0.12"><tspan font-style="normal">4</tspan></text>
<text transform="translate(437.72,91.2) scale(1.3225,1)" font-size="10.3" font-weight="normal" fill="#242424" stroke="#242424" stroke-width="0.12"><tspan font-style="normal">6</tspan></text>
<text transform="translate(437.83,70.22) scale(1.3014,1)" font-size="10.3" font-weight="normal" fill="#242424" stroke="#242424" stroke-width="0.12"><tspan font-style="normal">8</tspan></text>
<text transform="translate(432.23,49.23) scale(1.1290,1)" font-size="10.3" font-weight="normal" fill="#242424" stroke="#242424" stroke-width="0.12"><tspan font-style="normal">10</tspan></text>
<text transform="translate(432.22,28.25) scale(1.1434,1)" font-size="10.3" font-weight="normal" fill="#242424" stroke="#242424" stroke-width="0.12"><tspan font-style="normal">12</tspan></text>
<path d="M463.24 165.5v3.3M463.24 249.5v-3.3M487.37 165.5v3.3M487.37 249.5v-3.3M504.48 165.5v3.3M504.48 249.5v-3.3M517.76 165.5v3.3M517.76 249.5v-3.3M528.61 165.5v3.3M528.61 249.5v-3.3M537.78 165.5v3.3M537.78 249.5v-3.3M545.72 165.5v3.3M545.72 249.5v-3.3M552.73 165.5v3.3M552.73 249.5v-3.3M559 165.5v7M559 249.5v-7M600.24 165.5v3.3M600.24 249.5v-3.3M624.37 165.5v3.3M624.37 249.5v-3.3M641.48 165.5v3.3M641.48 249.5v-3.3M654.76 165.5v3.3M654.76 249.5v-3.3M665.61 165.5v3.3M665.61 249.5v-3.3M674.78 165.5v3.3M674.78 249.5v-3.3M682.72 165.5v3.3M682.72 249.5v-3.3M689.73 165.5v3.3M689.73 249.5v-3.3M696 165.5v7M696 249.5v-7M737.24 165.5v3.3M737.24 249.5v-3.3M761.37 165.5v3.3M761.37 249.5v-3.3M778.48 165.5v3.3M778.48 249.5v-3.3M452.1 235.5h7M791.7 235.5h-7M452.1 221.5h7M791.7 221.5h-7M452.1 207.5h7M791.7 207.5h-7M452.1 193.5h7M791.7 193.5h-7M452.1 179.5h7M791.7 179.5h-7" stroke="#303030" stroke-width="1.2" fill="none"/>
<text transform="translate(429.44,253.15) scale(1.1053,1)" font-size="10.3" font-weight="normal" fill="#242424" stroke="#242424" stroke-width="0.12"><tspan font-style="normal">0.7</tspan></text>
<text transform="translate(429.45,239.15) scale(1.0990,1)" font-size="10.3" font-weight="normal" fill="#242424" stroke="#242424" stroke-width="0.12"><tspan font-style="normal">0.8</tspan></text>
<text transform="translate(429.45,225.15) scale(1.1011,1)" font-size="10.3" font-weight="normal" fill="#242424" stroke="#242424" stroke-width="0.12"><tspan font-style="normal">0.9</tspan></text>
<text transform="translate(429.03,211.15) scale(1.1248,1)" font-size="10.3" font-weight="normal" fill="#242424" stroke="#242424" stroke-width="0.12"><tspan font-style="normal">1.0</tspan></text>
<text transform="translate(429.02,197.15) scale(1.1336,1)" font-size="10.3" font-weight="normal" fill="#242424" stroke="#242424" stroke-width="0.12"><tspan font-style="normal">1.1</tspan></text>
<text transform="translate(429.02,183.15) scale(1.1359,1)" font-size="10.3" font-weight="normal" fill="#242424" stroke="#242424" stroke-width="0.12"><tspan font-style="normal">1.2</tspan></text>
<text transform="translate(429.03,169.15) scale(1.1292,1)" font-size="10.3" font-weight="normal" fill="#242424" stroke="#242424" stroke-width="0.12"><tspan font-style="normal">1.3</tspan></text>
<path d="M463.24 264.5v3.3M463.24 348.5v-3.3M487.37 264.5v3.3M487.37 348.5v-3.3M504.48 264.5v3.3M504.48 348.5v-3.3M517.76 264.5v3.3M517.76 348.5v-3.3M528.61 264.5v3.3M528.61 348.5v-3.3M537.78 264.5v3.3M537.78 348.5v-3.3M545.72 264.5v3.3M545.72 348.5v-3.3M552.73 264.5v3.3M552.73 348.5v-3.3M559 264.5v7M559 348.5v-7M600.24 264.5v3.3M600.24 348.5v-3.3M624.37 264.5v3.3M624.37 348.5v-3.3M641.48 264.5v3.3M641.48 348.5v-3.3M654.76 264.5v3.3M654.76 348.5v-3.3M665.61 264.5v3.3M665.61 348.5v-3.3M674.78 264.5v3.3M674.78 348.5v-3.3M682.72 264.5v3.3M682.72 348.5v-3.3M689.73 264.5v3.3M689.73 348.5v-3.3M696 264.5v7M696 348.5v-7M737.24 264.5v3.3M737.24 348.5v-3.3M761.37 264.5v3.3M761.37 348.5v-3.3M778.48 264.5v3.3M778.48 348.5v-3.3M452.1 334.5h7M791.7 334.5h-7M452.1 320.5h7M791.7 320.5h-7M452.1 306.5h7M791.7 306.5h-7M452.1 292.5h7M791.7 292.5h-7M452.1 278.5h7M791.7 278.5h-7" stroke="#303030" stroke-width="1.2" fill="none"/>
<text transform="translate(429.44,352.15) scale(1.1053,1)" font-size="10.3" font-weight="normal" fill="#242424" stroke="#242424" stroke-width="0.12"><tspan font-style="normal">0.7</tspan></text>
<text transform="translate(429.45,338.15) scale(1.0990,1)" font-size="10.3" font-weight="normal" fill="#242424" stroke="#242424" stroke-width="0.12"><tspan font-style="normal">0.8</tspan></text>
<text transform="translate(429.45,324.15) scale(1.1011,1)" font-size="10.3" font-weight="normal" fill="#242424" stroke="#242424" stroke-width="0.12"><tspan font-style="normal">0.9</tspan></text>
<text transform="translate(429.03,310.15) scale(1.1248,1)" font-size="10.3" font-weight="normal" fill="#242424" stroke="#242424" stroke-width="0.12"><tspan font-style="normal">1.0</tspan></text>
<text transform="translate(429.02,296.15) scale(1.1336,1)" font-size="10.3" font-weight="normal" fill="#242424" stroke="#242424" stroke-width="0.12"><tspan font-style="normal">1.1</tspan></text>
<text transform="translate(429.02,282.15) scale(1.1359,1)" font-size="10.3" font-weight="normal" fill="#242424" stroke="#242424" stroke-width="0.12"><tspan font-style="normal">1.2</tspan></text>
<text transform="translate(429.03,268.15) scale(1.1292,1)" font-size="10.3" font-weight="normal" fill="#242424" stroke="#242424" stroke-width="0.12"><tspan font-style="normal">1.3</tspan></text>
<rect x="297.8" y="115" width="82.5" height="32" fill="#fff"/>
<line x1="304.7" y1="124.4" x2="336.5" y2="124.4" stroke="#d8565a" stroke-width="2" stroke-dasharray="3.8 3.2"/>
<line x1="304.7" y1="137" x2="336.8" y2="137" stroke="#8ab4e3" stroke-width="2"/>
<text transform="translate(347.76,127.7) scale(0.9936,1)" font-size="10.3" font-weight="normal" fill="#242424" stroke="#242424" stroke-width="0.12"><tspan font-style="normal">NLO</tspan></text>
<text transform="translate(347.76,140.9) scale(0.9865,1)" font-size="10.3" font-weight="normal" fill="#242424" stroke="#242424" stroke-width="0.12"><tspan font-style="normal">NNLO</tspan></text>
<rect x="88.5" y="169.8" width="291.8" height="17.5" fill="#fff"/>
<line x1="94.9" y1="178" x2="126.8" y2="178" stroke="#b91a20" stroke-width="2" stroke-dasharray="3.8 3.2"/>
<line x1="239.1" y1="177.9" x2="272" y2="177.9" stroke="#4287d0" stroke-width="2"/>
<text transform="translate(137.7,181.6) scale(1.0565,1)" font-size="10.3" font-weight="normal" fill="#242424" stroke="#242424" stroke-width="0.12"><tspan font-style="normal">NLO+NLL</tspan><tspan font-style="italic">x</tspan><tspan font-style="normal">/NLO</tspan></text>
<text transform="translate(282.02,181.6) scale(1.0405,1)" font-size="10.3" font-weight="normal" fill="#242424" stroke="#242424" stroke-width="0.12"><tspan font-style="normal">NNLO+NLL</tspan><tspan font-style="italic">x</tspan><tspan font-style="normal">/NNLO</tspan></text>
<rect x="88.5" y="268.8" width="291.8" height="17.5" fill="#fff"/>
<line x1="94.9" y1="277" x2="126.8" y2="277" stroke="#b91a20" stroke-width="2" stroke-dasharray="3.8 3.2"/>
<line x1="239.1" y1="276.9" x2="272" y2="276.9" stroke="#4287d0" stroke-width="2"/>
<text transform="translate(137.7,280.6) scale(1.0565,1)" font-size="10.3" font-weight="normal" fill="#242424" stroke="#242424" stroke-width="0.12"><tspan font-style="normal">NLO+NLL</tspan><tspan font-style="italic">x</tspan><tspan font-style="normal">/NLO</tspan></text>
<text transform="translate(282.02,280.6) scale(1.0405,1)" font-size="10.3" font-weight="normal" fill="#242424" stroke="#242424" stroke-width="0.12"><tspan font-style="normal">NNLO+NLL</tspan><tspan font-style="italic">x</tspan><tspan font-style="normal">/NNLO</tspan></text>
<text transform="translate(265.47,235) scale(0.9884,1)" font-size="10.9" font-weight="bold" fill="#141414" stroke="#141414" stroke-width="0.2"><tspan font-style="normal">Fixed-Order</tspan></text>
<text transform="translate(330.58,235) scale(0.9760,1)" font-size="10.9" font-weight="bold" fill="#141414" stroke="#141414" stroke-width="0.2"><tspan font-style="normal">Evolution</tspan></text>
<text transform="translate(265.49,333.9) scale(0.9650,1)" font-size="10.9" font-weight="bold" fill="#141414" stroke="#141414" stroke-width="0.2"><tspan font-style="normal">Resummed</tspan></text>
<text transform="translate(325.68,333.9) scale(0.9739,1)" font-size="10.9" font-weight="bold" fill="#141414" stroke="#141414" stroke-width="0.2"><tspan font-style="normal">Evolution</tspan></text>
<text transform="translate(54.84,44.5) scale(1.1321,1)" font-size="10.3" font-weight="normal" fill="#242424" stroke="#242424" stroke-width="0.12"><tspan font-style="normal">NNPDF31</tspan></text>
<text transform="translate(54.82,63.8) scale(1.1497,1)" font-size="10.3" font-weight="normal" fill="#242424" stroke="#242424" stroke-width="0.12"><tspan font-style="normal">FONLL</tspan></text>
<rect x="705.1" y="115" width="82.5" height="32" fill="#fff"/>
<line x1="712" y1="124.4" x2="743.8" y2="124.4" stroke="#d8565a" stroke-width="2" stroke-dasharray="3.8 3.2"/>
<line x1="712" y1="137" x2="744.1" y2="137" stroke="#8ab4e3" stroke-width="2"/>
<text transform="translate(755.06,127.7) scale(0.9936,1)" font-size="10.3" font-weight="normal" fill="#242424" stroke="#242424" stroke-width="0.12"><tspan font-style="normal">NLO</tspan></text>
<text transform="translate(755.06,140.9) scale(0.9865,1)" font-size="10.3" font-weight="normal" fill="#242424" stroke="#242424" stroke-width="0.12"><tspan font-style="normal">NNLO</tspan></text>
<rect x="495.8" y="169.8" width="291.8" height="17.5" fill="#fff"/>
<line x1="502.2" y1="178" x2="534.1" y2="178" stroke="#b91a20" stroke-width="2" stroke-dasharray="3.8 3.2"/>
<line x1="646.4" y1="177.9" x2="679.3" y2="177.9" stroke="#4287d0" stroke-width="2"/>
<text transform="translate(545,181.6) scale(1.0565,1)" font-size="10.3" font-weight="normal" fill="#242424" stroke="#242424" stroke-width="0.12"><tspan font-style="normal">NLO+NLL</tspan><tspan font-style="italic">x</tspan><tspan font-style="normal">/NLO</tspan></text>
<text transform="translate(689.32,181.6) scale(1.0405,1)" font-size="10.3" font-weight="normal" fill="#242424" stroke="#242424" stroke-width="0.12"><tspan font-style="normal">NNLO+NLL</tspan><tspan font-style="italic">x</tspan><tspan font-style="normal">/NNLO</tspan></text>
<rect x="495.8" y="268.8" width="291.8" height="17.5" fill="#fff"/>
<line x1="502.2" y1="277" x2="534.1" y2="277" stroke="#b91a20" stroke-width="2" stroke-dasharray="3.8 3.2"/>
<line x1="646.4" y1="276.9" x2="679.3" y2="276.9" stroke="#4287d0" stroke-width="2"/>
<text transform="translate(545,280.6) scale(1.0565,1)" font-size="10.3" font-weight="normal" fill="#242424" stroke="#242424" stroke-width="0.12"><tspan font-style="normal">NLO+NLL</tspan><tspan font-style="italic">x</tspan><tspan font-style="normal">/NLO</tspan></text>
<text transform="translate(689.32,280.6) scale(1.0405,1)" font-size="10.3" font-weight="normal" fill="#242424" stroke="#242424" stroke-width="0.12"><tspan font-style="normal">NNLO+NLL</tspan><tspan font-style="italic">x</tspan><tspan font-style="normal">/NNLO</tspan></text>
<text transform="translate(672.77,235) scale(0.9884,1)" font-size="10.9" font-weight="bold" fill="#141414" stroke="#141414" stroke-width="0.2"><tspan font-style="normal">Fixed-Order</tspan></text>
<text transform="translate(737.88,235) scale(0.9760,1)" font-size="10.9" font-weight="bold" fill="#141414" stroke="#141414" stroke-width="0.2"><tspan font-style="normal">Evolution</tspan></text>
<text transform="translate(672.79,333.9) scale(0.9650,1)" font-size="10.9" font-weight="bold" fill="#141414" stroke="#141414" stroke-width="0.2"><tspan font-style="normal">Resummed</tspan></text>
<text transform="translate(732.98,333.9) scale(0.9739,1)" font-size="10.9" font-weight="bold" fill="#141414" stroke="#141414" stroke-width="0.2"><tspan font-style="normal">Evolution</tspan></text>
<text transform="translate(462.14,44.5) scale(1.1321,1)" font-size="10.3" font-weight="normal" fill="#242424" stroke="#242424" stroke-width="0.12"><tspan font-style="normal">NNPDF31</tspan></text>
<text transform="translate(462.12,63.8) scale(1.1497,1)" font-size="10.3" font-weight="normal" fill="#242424" stroke="#242424" stroke-width="0.12"><tspan font-style="normal">FONLL</tspan></text>
<rect x="44.8" y="24.6" width="339.6" height="125.9" fill="none" stroke="#303030" stroke-width="1.25"/>
<rect x="44.8" y="165.5" width="339.6" height="84" fill="none" stroke="#303030" stroke-width="1.25"/>
<rect x="44.8" y="264.5" width="339.6" height="84" fill="none" stroke="#303030" stroke-width="1.25"/>
<rect x="452.1" y="24.6" width="339.6" height="125.9" fill="none" stroke="#303030" stroke-width="1.25"/>
<rect x="452.1" y="165.5" width="339.6" height="84" fill="none" stroke="#303030" stroke-width="1.25"/>
<rect x="452.1" y="264.5" width="339.6" height="84" fill="none" stroke="#303030" stroke-width="1.25"/>
<text transform="translate(143.45,363.8) scale(1.0998,1)" font-size="10.3" font-weight="normal" fill="#242424" stroke="#242424" stroke-width="0.12"><tspan font-style="normal">10</tspan></text>
<text transform="translate(156.15,359.9) scale(1.0135,1)" font-size="7.3" font-weight="normal" fill="#242424"><tspan font-style="normal">1</tspan></text>
<text transform="translate(280.45,363.8) scale(1.0998,1)" font-size="10.3" font-weight="normal" fill="#242424" stroke="#242424" stroke-width="0.12"><tspan font-style="normal">10</tspan></text>
<text transform="translate(293.19,359.9) scale(1.3849,1)" font-size="7.3" font-weight="normal" fill="#242424"><tspan font-style="normal">2</tspan></text>
<text transform="translate(188.11,376.8) scale(1.1452,1)" font-size="10.3" font-weight="normal" fill="#242424" stroke="#242424" stroke-width="0.12"><tspan font-style="italic">Q</tspan><tspan font-style="normal"> [GeV]</tspan></text>
<text transform="translate(550.75,363.8) scale(1.0998,1)" font-size="10.3" font-weight="normal" fill="#242424" stroke="#242424" stroke-width="0.12"><tspan font-style="normal">10</tspan></text>
<text transform="translate(563.45,359.9) scale(1.0135,1)" font-size="7.3" font-weight="normal" fill="#242424"><tspan font-style="normal">1</tspan></text>
<text transform="translate(687.75,363.8) scale(1.0998,1)" font-size="10.3" font-weight="normal" fill="#242424" stroke="#242424" stroke-width="0.12"><tspan font-style="normal">10</tspan></text>
<text transform="translate(700.49,359.9) scale(1.3849,1)" font-size="7.3" font-weight="normal" fill="#242424"><tspan font-style="normal">2</tspan></text>
<text transform="translate(595.41,376.8) scale(1.1452,1)" font-size="10.3" font-weight="normal" fill="#242424" stroke="#242424" stroke-width="0.12"><tspan font-style="italic">Q</tspan><tspan font-style="normal"> [GeV]</tspan></text>
<text transform="translate(162.57,11.7) scale(1.1383,1)" font-size="12.6" font-weight="normal" fill="#242424" stroke="#242424" stroke-width="0.18"><tspan font-style="italic">F</tspan></text>
<text transform="translate(170.09,15.7) scale(1.0989,1)" font-size="9.2" font-weight="normal" fill="#242424" stroke="#242424" stroke-width="0.1"><tspan font-style="normal">2</tspan></text>
<text transform="translate(173.13,7.1) scale(0.8652,1)" font-size="9.6" font-weight="normal" fill="#242424" stroke="#242424" stroke-width="0.15"><tspan font-style="italic">c</tspan></text>
<text transform="translate(183.98,11.65) scale(1.0926,1)" font-size="12.4" font-weight="normal" fill="#242424" stroke="#242424" stroke-width="0.12"><tspan font-style="normal">NC,</tspan></text>
<text transform="translate(212.95,11.65) scale(1.1084,1)" font-size="12.4" font-weight="normal" fill="#242424" stroke="#242424" stroke-width="0.12"><tspan font-style="italic">x</tspan></text>
<path d="M225.1 6.4h9M225.1 9.5h9" stroke="#242424" stroke-width="1.1"/>
<text transform="translate(239.68,11.8) scale(1.0914,1)" font-size="12.4" font-weight="normal" fill="#242424" stroke="#242424" stroke-width="0.12"><tspan font-style="normal">10</tspan></text>
<path d="M255 4.6h6.6" stroke="#242424" stroke-width="1.0"/>
<text transform="translate(262.04,7) scale(1.0889,1)" font-size="8.7" font-weight="normal" fill="#242424"><tspan font-style="normal">3</tspan></text>
<text transform="translate(569.87,11.7) scale(1.1383,1)" font-size="12.6" font-weight="normal" fill="#242424" stroke="#242424" stroke-width="0.18"><tspan font-style="italic">F</tspan></text>
<text transform="translate(577.39,15.7) scale(1.0989,1)" font-size="9.2" font-weight="normal" fill="#242424" stroke="#242424" stroke-width="0.1"><tspan font-style="normal">2</tspan></text>
<text transform="translate(580.43,7.1) scale(0.8652,1)" font-size="9.6" font-weight="normal" fill="#242424" stroke="#242424" stroke-width="0.15"><tspan font-style="italic">c</tspan></text>
<text transform="translate(591.28,11.65) scale(1.0926,1)" font-size="12.4" font-weight="normal" fill="#242424" stroke="#242424" stroke-width="0.12"><tspan font-style="normal">NC,</tspan></text>
<text transform="translate(620.25,11.65) scale(1.1084,1)" font-size="12.4" font-weight="normal" fill="#242424" stroke="#242424" stroke-width="0.12"><tspan font-style="italic">x</tspan></text>
<path d="M632.4 6.4h9M632.4 9.5h9" stroke="#242424" stroke-width="1.1"/>
<text transform="translate(646.98,11.8) scale(1.0914,1)" font-size="12.4" font-weight="normal" fill="#242424" stroke="#242424" stroke-width="0.12"><tspan font-style="normal">10</tspan></text>
<path d="M662.3 4.6h6.6" stroke="#242424" stroke-width="1.0"/>
<text transform="translate(669.32,7) scale(1.0889,1)" font-size="8.7" font-weight="normal" fill="#242424"><tspan font-style="normal">5</tspan></text>
<g transform="translate(7.9,0) rotate(-90)">
<text transform="translate(-92.62,0) scale(0.9533,1)" font-size="11.2" font-weight="normal" fill="#242424" stroke="#242424" stroke-width="0.12"><tspan font-style="italic">F</tspan></text>
<text transform="translate(-87.23,3.8) scale(0.9852,1)" font-size="8.7" font-weight="normal" fill="#242424"><tspan font-style="normal">2</tspan></text>
<text transform="translate(-84.99,-3.7) scale(0.9741,1)" font-size="9.2" font-weight="normal" fill="#242424" stroke="#242424" stroke-width="0.1"><tspan font-style="italic">c</tspan></text>
</g>
<g transform="translate(11.2,0) rotate(-90)">
<text transform="translate(-221.79,0) scale(1.1686,1)" font-size="10.3" font-weight="normal" fill="#242424" stroke="#242424" stroke-width="0.12"><tspan font-style="normal">Ratio</tspan></text>
</g>
<g transform="translate(11.2,0) rotate(-90)">
<text transform="translate(-320.79,0) scale(1.1686,1)" font-size="10.3" font-weight="normal" fill="#242424" stroke="#242424" stroke-width="0.12"><tspan font-style="normal">Ratio</tspan></text>
</g>
<g transform="translate(418.4,0) rotate(-90)">
<text transform="translate(-92.62,0) scale(0.9533,1)" font-size="11.2" font-weight="normal" fill="#242424" stroke="#242424" stroke-width="0.12"><tspan font-style="italic">F</tspan></text>
<text transform="translate(-87.23,3.8) scale(0.9852,1)" font-size="8.7" font-weight="normal" fill="#242424"><tspan font-style="normal">2</tspan></text>
<text transform="translate(-84.99,-3.7) scale(0.9741,1)" font-size="9.2" font-weight="normal" fill="#242424" stroke="#242424" stroke-width="0.1"><tspan font-style="italic">c</tspan></text>
</g>
<g transform="translate(418.5,0) rotate(-90)">
<text transform="translate(-221.79,0) scale(1.1686,1)" font-size="10.3" font-weight="normal" fill="#242424" stroke="#242424" stroke-width="0.12"><tspan font-style="normal">Ratio</tspan></text>
</g>
<g transform="translate(418.5,0) rotate(-90)">
<text transform="translate(-320.79,0) scale(1.1686,1)" font-size="10.3" font-weight="normal" fill="#242424" stroke="#242424" stroke-width="0.12"><tspan font-style="normal">Ratio</tspan></text>
</g>
</svg></body></html>
